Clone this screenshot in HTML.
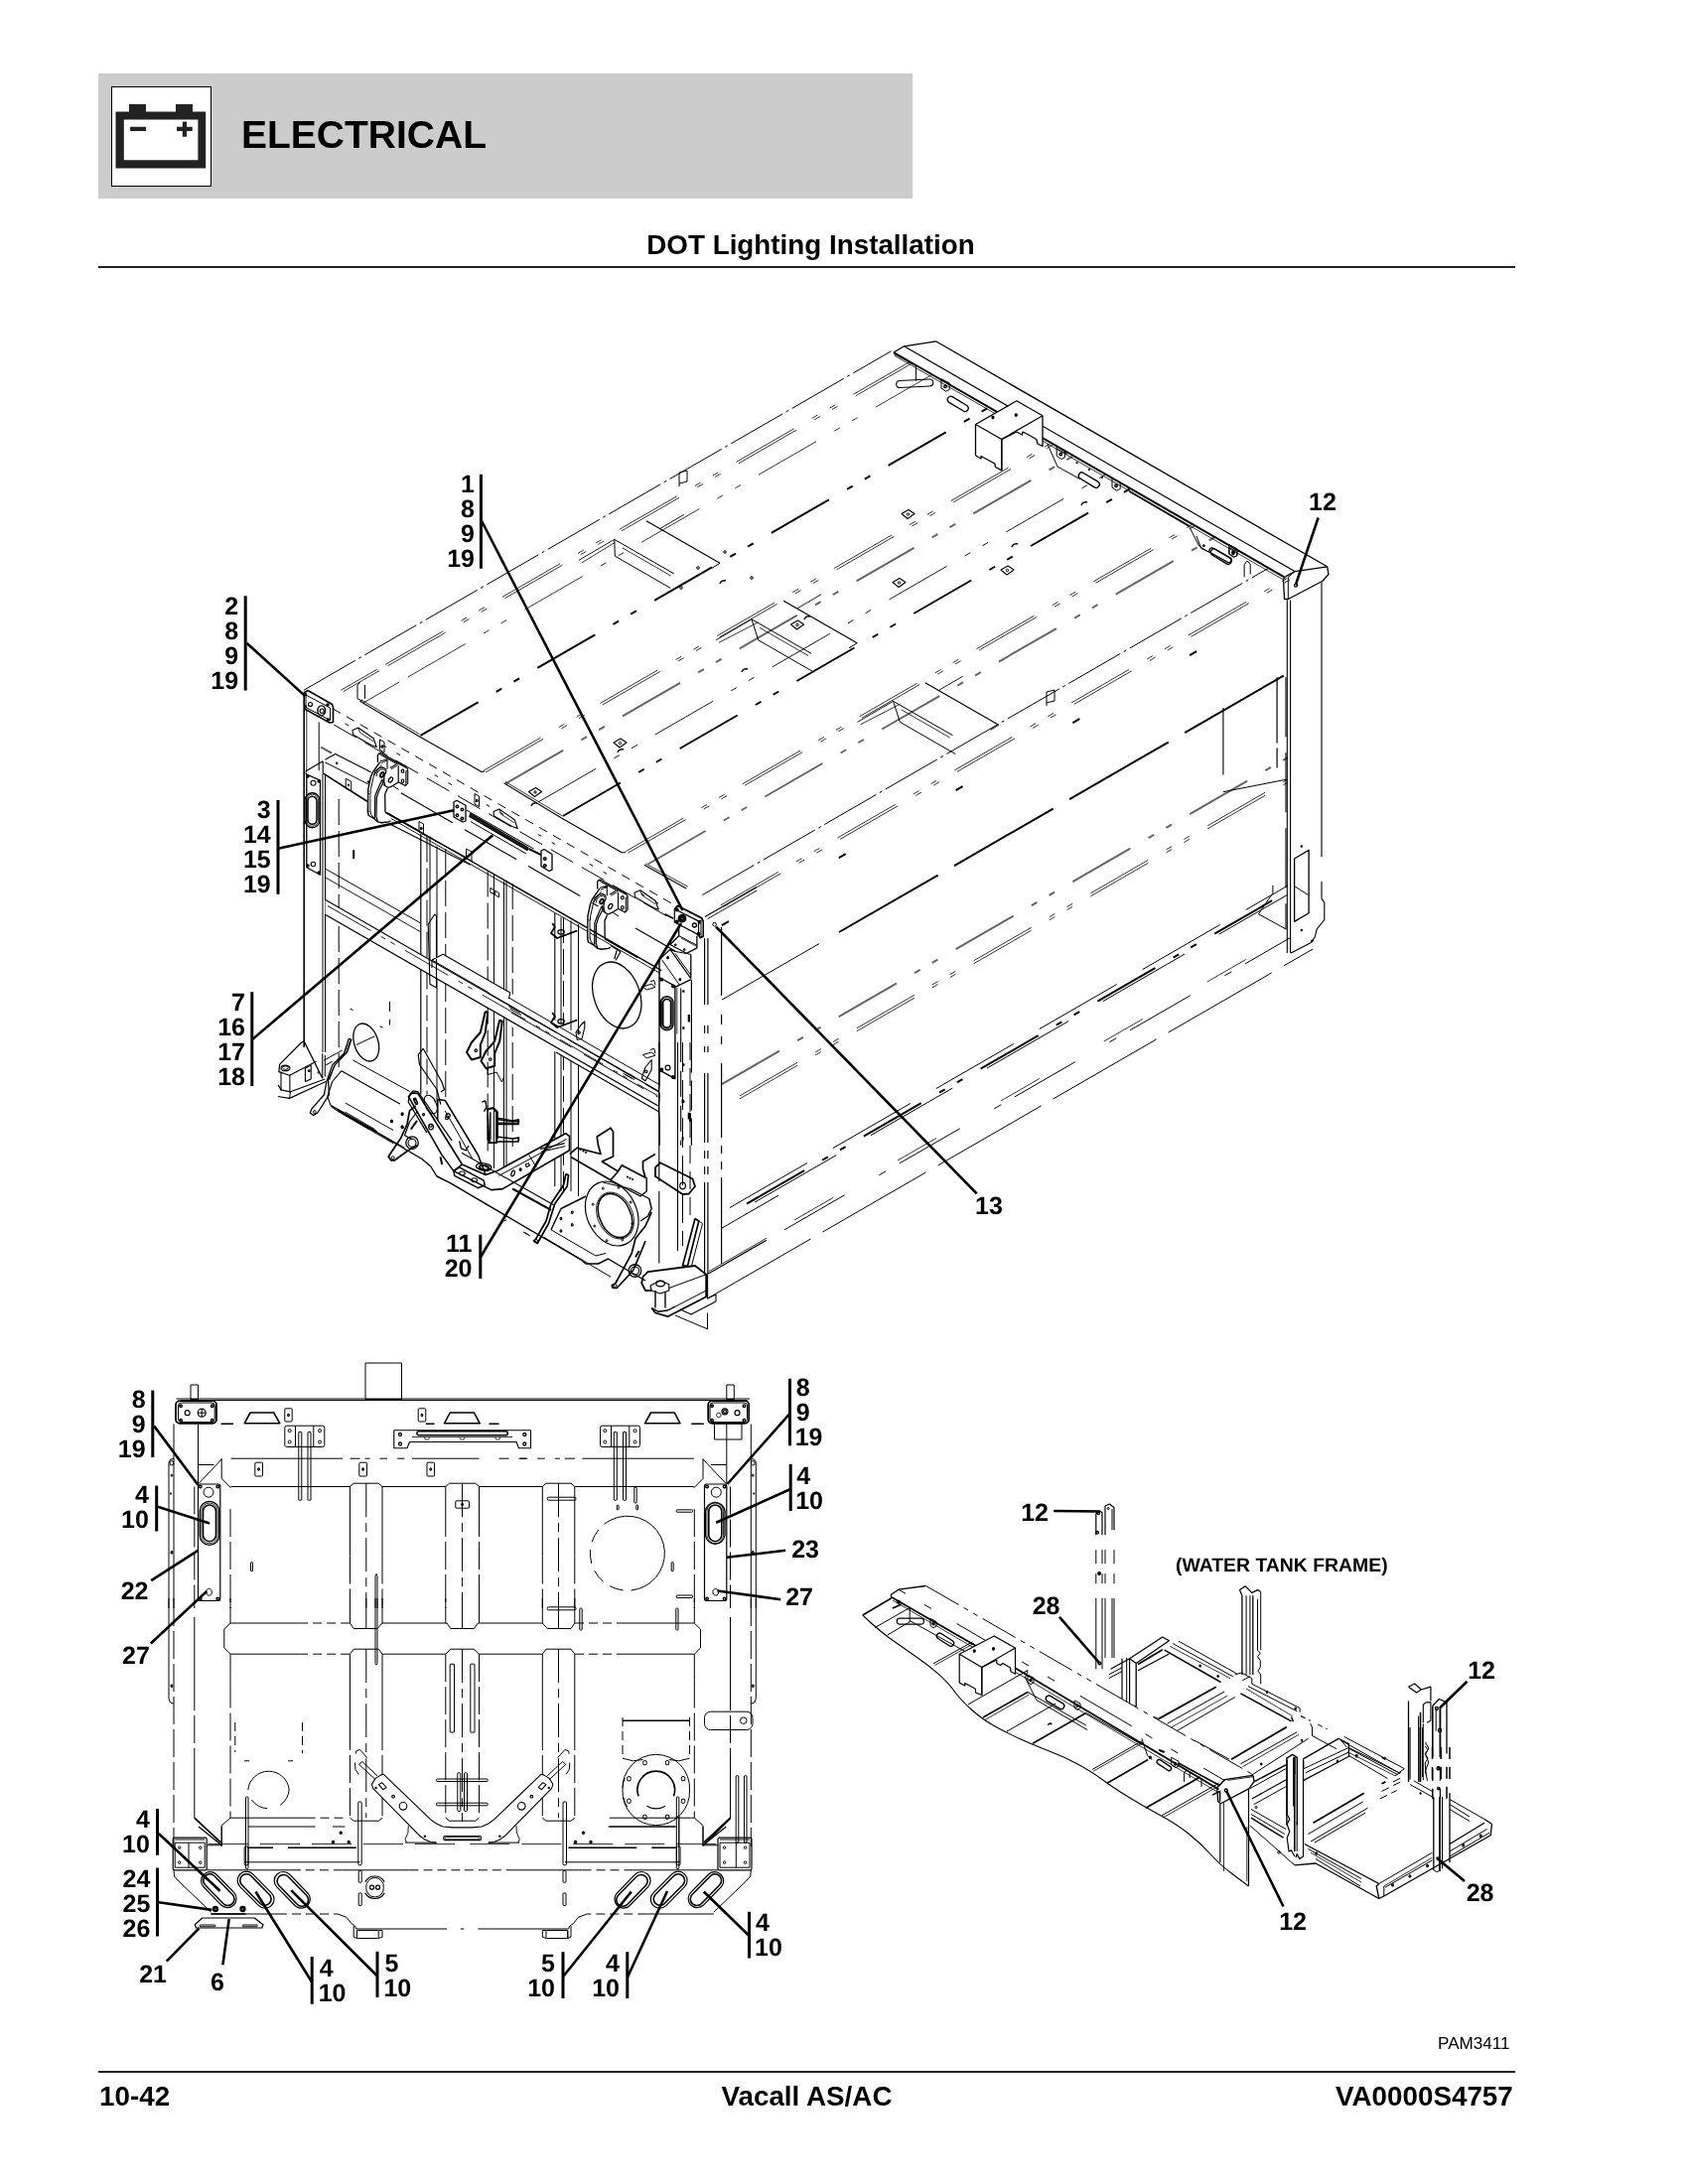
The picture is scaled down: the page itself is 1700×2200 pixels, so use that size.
<!DOCTYPE html>
<html><head><meta charset="utf-8"><title>DOT Lighting Installation</title>
<style>
html,body{margin:0;padding:0;background:#fff}
body{width:1700px;height:2200px;position:relative;overflow:hidden;font-family:"Liberation Sans",sans-serif;color:#000}
.banner{position:absolute;left:99px;top:74px;width:820px;height:126px;background:#ccc}
.icon{position:absolute;left:111.5px;top:86.5px;width:99.5px;height:99px;background:#fff;border:1px solid #000;box-sizing:content-box}
.h1{position:absolute;left:243px;top:114px;font-size:39px;font-weight:700;line-height:44px;white-space:nowrap}
.title{position:absolute;left:103px;width:1427px;top:230px;text-align:center;font-size:27.8px;font-weight:700;line-height:34px;white-space:nowrap}
.rule{position:absolute;left:99px;width:1427px;height:2px;background:#222}
.foot{position:absolute;top:2095px;font-size:27.8px;font-weight:700;line-height:34px;white-space:nowrap}
.pam{position:absolute;right:179.5px;top:2049px;font-size:17.1px;line-height:20px}
svg{position:absolute;left:0;top:0}
svg text{font-family:"Liberation Sans",sans-serif;text-rendering:geometricPrecision}
.h1,.title,.foot,.pam{will-change:transform}
svg{will-change:transform}
</style></head><body>
<div class="banner"></div><div class="icon"></div>
<div class="h1">ELECTRICAL</div>
<div class="title">DOT Lighting Installation</div>
<div class="rule" style="top:268px"></div>
<div class="rule" style="top:2086px"></div>
<div class="foot" style="left:100px">10-42</div>
<div class="foot" style="left:99px;width:1427px;text-align:center">Vacall AS/AC</div>
<div class="foot" style="right:176px">VA0000S4757</div>
<div class="pam">PAM3411</div>
<svg width="1700" height="2200" viewBox="0 0 1700 2200" fill="none" stroke="#000" stroke-width="1" stroke-linecap="butt" stroke-linejoin="round">
<g id="icon" stroke="none" fill="#222"><path d="M116.5 112.4H130V105.1H147V112.4H177V105.1H194V112.4H207.2V169.5H116.5ZM124.8 120.5V161.2H199.4V120.5Z" fill-rule="evenodd"/><path d="M131.1 127.8H147V132H131.1ZM178 127.8H183.8V122.6H188V127.8H193.7V132H188V137.7H183.8V132H178Z"/></g>
<g id="top">
<path stroke-width="1" d="M325 780L325 1060M327.5 780L327.5 1060M433 842.5L433 980M440 852.5L440 1110M497.5 880L497.5 1177.5M507.5 887.5L507.5 1180M510 887.5L510 1180M565 923.8L565 1200M575 927.5L575 1200M582.5 931.2L582.5 1205"/>
<path stroke-width="1" stroke-dasharray="26 6" d="M341.2 805L341.2 1075M430 842.5L430 1102.5M448.8 855L448.8 1115M491.2 877.5L491.2 1165M516.2 890L516.2 1155M567.5 923.8L567.5 1200"/>
<path stroke-width="1.2" d="M423.8 840L423.8 1102.5"/>
<path stroke-width="1.1" d="M558.8 920L558.8 1195"/>
<path stroke-width="2" d="M356.2 856.2L356.2 865"/>
<path stroke-width="0" stroke="#fff" fill="#fff" d="M327.5 906.2L435 968L435 967L446.2 961.2L513.8 1000L663.8 1092.5L663.8 1120L512.5 1032.5L512.5 1027.5L327.5 921.2Z"/>
<path stroke-width="1.1" d="M327.5 906.2L662.5 1098.8"/>
<path stroke-width="1.3" d="M327.5 921.2L662.5 1113.8"/>
<path stroke-width="0.9" stroke-dasharray="50 12 5 6 5 12" d="M330 912.5L662.5 1103.8"/>
<path stroke-width="0" stroke="#fff" fill="#fff" d="M381.6 759.2L383.4 758.5L409 772.5L410.6 774.8L410.6 788.9L408.1 791.5L401.2 787.8L391.6 793.5L390.3 794L387.7 799.9L388 818.2L393.5 826.9L391.6 827.9L384.3 828.8L380.6 827.9L377 824.7L371.3 821.5L370.3 817.3L370.8 794.9L373.3 783L375.1 778.4L380.4 770.6L380.4 760.6ZM602.8 886.7L604.6 886L630.3 900L631.9 902.3L631.9 916.4L629.4 919L622.5 915.3L612.9 921L611.5 921.5L609 927.4L609.2 945.7L614.7 954.4L612.9 955.4L605.5 956.3L601.9 955.4L598.2 952.2L592.5 949L591.6 944.8L592 922.4L594.6 910.5L596.4 905.9L601.7 898.1L601.7 888.1ZM664 966.9L674.9 955.9L679.9 958.1L683.7 930.7L679.3 929L679.3 915.3L683.2 912L707.9 925.2L709.6 944.9L709.6 1153.7L664 1153.7ZM411.4 1104.7L415.2 1100.9L420.9 1101.5L440.8 1128.4L440.8 1107.6L448.3 1108.5L481.5 1163.5L500.5 1179.6L569.7 1141.7L573.5 1144.5L573.5 1158.8L506.2 1197.6L494.8 1198.6L481.5 1196.7L457.8 1184.4L444.5 1162.6Z"/>
<path stroke-width="1.3" fill="#fff" d="M351.3 1046.4L353.8 1047.2L349.7 1059.7L337.2 1072.9L330.6 1087.9L331.4 1102.8L319.8 1121L315.7 1123.5L312.3 1121L314 1116.9L326.4 1102.8L328.9 1089.5L334.7 1072.9L346.4 1061.3Z"/>
<path stroke-width="1" stroke-dasharray="60 4 3 4" d="M305.8 695.3L897.6 353.7M707.4 901.5L1278 572"/>
<path stroke-width="0.8" stroke-dasharray="67 21 6.5 14 6.5 21" d="M486.6 776.5L1058.8 446.2M489.1 777.9L1061.2 447.6M630.1 857.7L1201.3 528M632.5 859.1L1203.7 529.4M388.2 669.3L916.4 364.4M390.6 670.7L918.8 365.8M410.7 682.1L938.8 377.3M725.8 911.9L1296.3 582.5M728.4 913.3L1298.9 584M745 1103.8L1297 785.1M745 1106.8L1297 788.1"/>
<path stroke-width="2" stroke-dasharray="67 21 6.5 14 6.5 21" stroke="#666" d="M509.2 789.3L1081.2 459.1M652.6 870.5L1223.7 540.8M727 1092.1L1297 763.1"/>
<path stroke-width="0.8" d="M343.2 695.3L379.7 674.3M345.6 696.7L382.1 675.6M365.7 708.1L402.2 687M714 1280.6L772 1247.2M626.8 551.9L675.8 580.1M585.8 566.9L619.3 546.4M765 632.3L814 660.5M724 647.3L763.7 626.8M907.6 714.8L956.6 743M866.6 729.8L906.3 709.3M900.5 358L1293.5 584.5M308.8 715L308.8 777.5M364 705L422.5 739.5M509 787.5L566.5 822M650.2 870L692.8 893.2M360.8 733L362.5 738M362.5 738L376.2 747M502.8 815L504.5 820M504.5 820L518.2 829M644.8 896.8L646.5 901.8M646.5 901.8L660.2 910.8M308.5 806.2L308.5 826.2A6 6 0 0 0 320.5 826.2L320.5 806.2A6 6 0 0 0 308.5 806.2ZM352.5 1048.1L348.3 1059.7L336.4 1073.8L331.8 1087.9M685.9 944.9L701.3 953.2"/>
<path stroke-width="0.9" stroke-dasharray="67 21 6.5 14 6.5 21" d="M542.1 807.9L1113.9 477.8"/>
<path stroke-width="2" stroke-dasharray="67 21 6.5 14 6.5 21" d="M423.5 740.8L996.1 410.2M566.9 822L1138.5 492M752 1212.7L1297 898.1"/>
<path stroke-width="1.1" d="M710 923.6L762 893.5M711.5 1283L712.6 1285L712.6 1308L721 1304L721 1311L696 1324L685 1319M908 517.5L915 513.5L921 517.5L914 522.5ZM899 586.5L906 582.5L912 586.5L905 591.5ZM1008 574L1015 570L1021 574L1014 579ZM796.5 629L803.5 625L809.5 629L802.5 634ZM618 748L625 744L631 748L624 753ZM532.5 797.5L539.5 793.5L545.5 797.5L538.5 802.5ZM906.4 390.5L936.4 389A3.5 3.5 0 0 0 936.1 382L906.1 383.5A3.5 3.5 0 0 0 906.4 390.5ZM1296.3 604.4L1296.3 960M1299.6 604.4L1299.6 960M1331 586.2L1331 713.1M1331 905.4L1333.8 909.2L1333.8 926.5L1326.1 936.1L1324.2 943.8L1320.4 949.6L1300.2 960M1231.9 713.1L1231.9 780.4M362.5 706.2L421.2 741.2M421.2 741.2L485 777.5L488 777M507.5 788.8L565 823.8M565 823.8L626.2 858.8L630 858.8M648.8 871.2L691.2 895M640 935L680 958M308.1 776.7L325.2 766.8M327.4 765.2L337.3 759.7M337.3 759.3L373.5 777.8M325.2 766.8L325.2 778.9M355 735.5L360.8 733L376.2 743.8L379.2 752.5L373.8 750.5L355.5 740ZM497 817.5L502.8 815L518.2 825.8L521.2 834.5L515.8 832.5L497.5 822ZM639 899.2L644.8 896.8L660.2 907.5L663.2 916.2L657.8 914.2L639.5 903.8ZM390 764.7L390 774.8M382.5 767L390.3 764.7M393 773.4L398.9 770M611.3 892.2L611.3 902.3M603.7 894.5L611.5 892.2M614.2 900.9L620.2 897.5M313 788.8a2.5 2.5 0 1 0 5 0a2.5 2.5 0 1 0 -5 0ZM313.2 870.5a2.2 2.2 0 1 0 4.5 0a2.2 2.2 0 1 0 -4.5 0ZM435 967L446.2 961.2L513.8 1000L512.5 1006.2M431.2 931.2L437.5 921.2L439.5 922.5L439.5 995L433 991.2L431.2 931.2M588.8 1028.8L585 1032.5L580 1040L581.2 1047.5L586.2 1046.2L588.8 1035ZM324.8 1061.3L324.8 1086.2M283 1079.6L283 1098.7M291.9 1082.9L291.9 1100.3M307.4 1076.3L313.2 1072.9L313.2 1087L307.4 1089.5ZM310.4 1078.7a0.8 0.8 0 1 0 1.7 0a0.8 0.8 0 1 0 -1.7 0ZM343.9 1078.7L334.7 1089.5L329.8 1104.5L333.1 1113.6L336.4 1116.9M428.8 1114.8A5.5 8.8 -25 1 0 438.7 1110.2A5.5 8.8 -25 1 0 428.8 1114.8ZM448.5 1126.2a1.5 1.5 0 1 0 3 0a1.5 1.5 0 1 0 -3 0ZM432.2 1133.8a1.5 1.5 0 1 0 3 0a1.5 1.5 0 1 0 -3 0ZM685.7 995.5L685.7 1043.8M656.2 1067.5L650 1075L646.2 1086.2L650 1088.8L656.2 1077.5ZM649.5 1079.5a1.2 1.2 0 1 0 2.5 0a1.2 1.2 0 1 0 -2.5 0ZM465 1161.2L557.5 1213.8M411 1151.2a4 4 0 1 0 8 0a4 4 0 1 0 -8 0ZM529.3 1173L532.3 1171.7L533.3 1174.3L530.2 1175.6ZM462.6 1181.9a2.8 1.9 0 1 0 5.7 0a2.8 1.9 0 1 0 -5.7 0ZM474.9 1188.7a2.8 1.9 0 1 0 5.7 0a2.8 1.9 0 1 0 -5.7 0ZM635.5 1280a4 4 0 1 0 8 0a4 4 0 1 0 -8 0ZM655 1295L665 1290L673.8 1293.8L673.8 1300L665 1303L656.2 1300ZM682.5 1050L682.5 1260"/>
<path stroke-width="0.9" d="M712.5 925.7L762 897.1M664.8 532.4L688.8 518.4M582.8 564.4L618.8 543.4M803 612.8L827 598.8M721 644.8L757 623.8M945.6 695.3L969.6 681.3M863.6 727.3L899.6 706.3M393.8 824.5L665 980.5M425 840L470 863.8M384.3 760.8L401.2 770.6M383.4 768.8L390 766.1M393.9 774.8L400.3 771.1M605.5 888.3L622.5 898.1M604.6 896.3L611.3 893.6M615.2 902.3L621.6 898.6M327.5 883.8L423.8 938.8M666.4 1009.2L666.4 1032.3A5.3 5.3 0 0 0 676.9 1032.3L676.9 1009.2A5.3 5.3 0 0 0 666.4 1009.2ZM347.5 1120L377.5 1137.5M603.6 1231.9A17.5 24.5 -25 1 0 635.4 1217.1A17.5 24.5 -25 1 0 603.6 1231.9Z"/>
<path stroke-width="2" stroke-dasharray="8 128" d="M727 932.1L1297 603.1"/>
<path stroke-width="1" d="M727 1007.1L825 950.6M727 1237.1L784 1204.2M717.8 931.2a1.8 1.8 0 1 0 3.6 0a1.8 1.8 0 1 0 -3.6 0ZM618.8 543.4L619.3 560.1M618.8 543.4L678.8 577.9M619.3 560.1L675.3 592.4M725 567.3L716.8 572.4M757 623.8L763.7 644.8M757 623.8L817 658.3M763.7 644.8L819.7 677.1M863.2 647.7L855 652.8M899.6 706.3L906.3 727.3M899.6 706.3L959.6 740.8M906.3 727.3L962.3 759.6M1005.8 730.2L997.6 735.3M913.3 518a1.2 1.2 0 1 0 2.4 0a1.2 1.2 0 1 0 -2.4 0ZM904.3 587a1.2 1.2 0 1 0 2.4 0a1.2 1.2 0 1 0 -2.4 0ZM1013.3 574.5a1.2 1.2 0 1 0 2.4 0a1.2 1.2 0 1 0 -2.4 0ZM801.8 629.5a1.2 1.2 0 1 0 2.4 0a1.2 1.2 0 1 0 -2.4 0ZM623.3 748.5a1.2 1.2 0 1 0 2.4 0a1.2 1.2 0 1 0 -2.4 0ZM537.8 798a1.2 1.2 0 1 0 2.4 0a1.2 1.2 0 1 0 -2.4 0ZM684 490L684 476L692 474L692 485L684 487M1054 711L1054 697L1062 695L1062 706L1054 708M701.7 572a1.3 1.3 0 1 0 2.6 0a1.3 1.3 0 1 0 -2.6 0ZM728.7 556a1.3 1.3 0 1 0 2.6 0a1.3 1.3 0 1 0 -2.6 0ZM684.7 592a1.3 1.3 0 1 0 2.6 0a1.3 1.3 0 1 0 -2.6 0ZM755.7 582a1.3 1.3 0 1 0 2.6 0a1.3 1.3 0 1 0 -2.6 0ZM1297.3 581.3L1297.3 603.5M1297.3 581.3L1304 575.6M948 381.8L956.2 386L956.2 392.5L952.5 394.2L948 391ZM1064.2 450L1072.5 454.2L1072.5 460.8L1068.8 462.5L1064.2 459.2ZM1120 481.8L1128.2 486L1128.2 492.5L1124.5 494.2L1120 491ZM1238 548.8L1246.2 553L1246.2 559.5L1242.5 561.2L1238 558ZM900 356.2L922.5 368.8M922.5 368.8L922.5 383.8M1055 447.5L1065 470L1087.5 482.5M1197.5 530L1207.5 550L1217.5 556.2M1065 452.5L1075 457.5M1304 892.9L1317.5 901.5M1231.9 797.7L1295.4 785.2M1267.5 920.8L1281.9 899.6L1281.9 891.9M1267.5 920.8L1295.4 936.1M1253.1 581.3L1253.1 568.8L1256 565L1259.2 567.9L1259.2 578.5M1237.7 551.5L1245.4 555.4L1245.4 560.2L1242.5 561.2L1237.7 558.3ZM1205 540L1209.8 552.5L1222.3 558.3M308 700L332.5 713L332.5 725.5L308 712.5ZM321.2 727.5L321.2 776.2M362.5 687.5L360 690L360 703.8L365 706.2M367.5 690L367.5 703.8M327.4 767.9L370.8 789.9M308.1 776.7L308.1 780.2M348.2 784.4L353.7 787.1L353.7 797L348.2 794.3ZM382.5 745L387 747.5L387 758L382.5 755.5ZM478 799.5L482.5 802L482.5 812.5L478 810ZM422 827.5L426.5 830L426.5 840.5L422 838ZM469.5 855L475 858L475 867.5L469.5 864.5ZM493.8 894.5L502.5 899.5L502.5 903.8L493.8 898.8ZM381.6 759.2L409 773.4M409 776.6L409 790.8M384.3 770.6L376.5 781.2L373.3 795.4L373.1 799.5M373.1 817.3L373.8 820.5L377 824.7M378.8 782.1L380 778L382.9 775.2L386.1 774.8L388 776.6M383.9 780A1 1.8 30 1 0 385.6 781A1 1.8 30 1 0 383.9 780ZM385.2 784.8L385.2 788.9L387 791.7M395.7 791.7L401.7 795.4M602.8 886.7L630.3 900.9M630.3 904.1L630.3 918.3M605.5 898.1L597.8 908.7L594.6 922.9L594.3 927M594.3 944.8L595 948L598.2 952.2M600.1 909.6L601.2 905.5L604.2 902.7L607.4 902.3L609.2 904.1M605.1 907.5A1 1.8 30 1 0 606.9 908.5A1 1.8 30 1 0 605.1 907.5ZM606.5 912.3L606.5 916.4L608.3 919.2M617 919.2L622.9 922.9M470 816.2L537.5 855M473.8 827.5L530 860M327.5 875L423.8 930M435 967L492.5 1000M435 967L435 975M358.8 1052.5L377.5 1043.8M352.5 1016.2L355.5 1017.5M382.5 1033.8L385.5 1035M488.8 1076.2L491.2 1077.5L491.2 1082.5L500 1080L505.5 1090L507.5 1085M561.2 945L581.2 937.5M561.2 1035L581.2 1027.5M327.3 1063L327.3 1084.6M284.6 1075.6a2.8 1.7 0 1 0 5.6 0a2.8 1.7 0 1 0 -5.6 0ZM292.4 1099.8L291.6 1106.4M320 1080.4a0.7 0.7 0 1 0 1.3 0a0.7 0.7 0 1 0 -1.3 0ZM326.4 1068L344.7 1058M328.1 1072.9L334.7 1069.3M315.7 1120.2a1.2 1.2 0 1 0 2.3 0a1.2 1.2 0 1 0 -2.3 0ZM348 1111.1L396.1 1138.5M336.4 1116.9L396.1 1151.7M355.5 1068L412.7 1099.5M493.8 1120L493.8 1147.5M486.2 1110L488.8 1108.8L490 1115L487.5 1118.8M683.7 942.7L701.9 952.1M666.7 966.9L684.3 992.2M679.9 960.3L695.8 982.3M679.9 958.4L695.8 961.4M647.5 993.8L656.2 991.2L660 994.5L651.2 997ZM655 988.8L658.8 987.5L660 992.5M647.5 1062.5L656.2 1060L660 1063.2L651.2 1065.8ZM655 1057.5L658.8 1056.2L660 1061.2M630 1082.5L636.2 1086.2M632.5 1081.2L638.8 1085M512.5 1005L663.8 1092.5M512.5 1013.8L523.8 1020M513.8 1016.2L525 1022.5M528.8 1022.5L540 1028.8M627.5 1081.2L638.8 1087.5M340 1118L407.5 1156.2M507.5 1230L510 1228.8M527.5 1241.2L533.8 1245M547.5 1246.2L615 1286.2M394.2 1166.2a1.5 1.5 0 1 0 3 0a1.5 1.5 0 1 0 -3 0ZM448.3 1119L475.8 1167.3M502.4 1184.4L570.6 1147.4M545 1160.3L569.3 1154.6M532.7 1163.5L540.3 1175.8M493.8 1121.2L493.8 1150M485 1110L488.8 1108.8L490 1116.2L487.5 1120M660 1185L660 1176.2M635.8 1232.8a1 1 0 1 0 2 0a1 1 0 1 0 -2 0ZM625.7 1248.8a1 1 0 1 0 2 0a1 1 0 1 0 -2 0ZM610 1249.7a1 1 0 1 0 2 0a1 1 0 1 0 -2 0ZM597.8 1235a1 1 0 1 0 2 0a1 1 0 1 0 -2 0ZM596.2 1213.2a1 1 0 1 0 2 0a1 1 0 1 0 -2 0ZM606.3 1197.2a1 1 0 1 0 2 0a1 1 0 1 0 -2 0ZM622 1196.3a1 1 0 1 0 2 0a1 1 0 1 0 -2 0ZM634.2 1211a1 1 0 1 0 2 0a1 1 0 1 0 -2 0ZM607.5 1191.2L635 1197.5M555 1238.8L600 1265L610 1262.5M538.5 1250a1.5 1.5 0 1 0 3 0a1.5 1.5 0 1 0 -3 0ZM618 1295a1.5 1.5 0 1 0 3 0a1.5 1.5 0 1 0 -3 0ZM673.8 1297.5L711.2 1283.8M680 1316.2L711.2 1300M703.8 1230L707.5 1232.5M707.5 1232.5L696.2 1276.2M680 1325L712.5 1338.8L712.5 1322.5"/>
<path stroke-width="2" stroke-dasharray="115 19" d="M845 939L1296 678.7"/>
<path stroke-width="1" stroke-dasharray="90 30" d="M735 1216.5L1297 892.1"/>
<path stroke-width="1" stroke-dasharray="95 40" d="M760 1211.1L1297 901.1"/>
<path stroke-width="0.8" stroke-dasharray="45 75" d="M800 1229L1297 942.1"/>
<path stroke-width="1.2" d="M712.5 1283.5L772 1249.2M709.6 945L709.6 1012M709.6 1033L709.6 1041M709.6 1054L709.6 1060M712.9 945L712.9 1012M712.9 1033L712.9 1041M712.9 1054L712.9 1060M726.6 934L726.6 1003M726.6 1022L726.6 1032M726.6 1044L726.6 1052M651 524.8L725 567.3M789.2 605.2L863.2 647.7M931.8 687.7L1005.8 730.2M910.5 348.8L1304 575.6M1303.4 589.6a1.6 1.6 0 1 0 3.2 0a1.6 1.6 0 1 0 -3.2 0ZM1084 466.2a0.5 0.5 0 1 0 1 0a0.5 0.5 0 1 0 -1 0ZM1096.5 473a0.5 0.5 0 1 0 1 0a0.5 0.5 0 1 0 -1 0ZM1109.5 480.8a0.5 0.5 0 1 0 1 0a0.5 0.5 0 1 0 -1 0ZM1212 550a0.5 0.5 0 1 0 1 0a0.5 0.5 0 1 0 -1 0ZM1286.1 682.3L1286.1 748.6M310.5 709.5a2 2 0 1 0 4 0a2 2 0 1 0 -4 0ZM322.2 716.2a2 2.2 0 1 0 4 0a2 2.2 0 1 0 -4 0ZM392.5 830L473.8 871.2M497.2 899.5a0.8 0.8 0 1 0 1.5 0a0.8 0.8 0 1 0 -1.5 0ZM401.2 771.6L401.2 787.8M404.2 776.8a1.3 1.7 0 1 0 2.6 0a1.3 1.7 0 1 0 -2.6 0ZM404.2 786.7a1.3 1.7 0 1 0 2.6 0a1.3 1.7 0 1 0 -2.6 0ZM384.8 785.3L379.7 796.7L377.7 802.2L377.4 824.2M387 786.2L381.6 796.7L379.3 803.6L379 822.8L380.6 827.9M376.5 781.2L377.9 777L381.6 773.8L385.2 772.9L388 774.3L389.1 777M622.5 899.1L622.5 915.3M625.5 904.3a1.3 1.7 0 1 0 2.6 0a1.3 1.7 0 1 0 -2.6 0ZM625.5 914.2a1.3 1.7 0 1 0 2.6 0a1.3 1.7 0 1 0 -2.6 0ZM606 912.8L601 924.2L598.9 929.7L598.7 951.7M608.3 913.7L602.8 924.2L600.5 931.1L600.3 950.3L601.9 955.4M597.8 908.7L599.1 904.5L602.8 901.3L606.5 900.4L609.2 901.8L610.4 904.5M478 1058.2a1.2 1.2 0 1 0 2.5 0a1.2 1.2 0 1 0 -2.5 0ZM492.5 1067a1.2 1.2 0 1 0 2.5 0a1.2 1.2 0 1 0 -2.5 0ZM561.8 938.8a3.2 2.2 0 1 0 6.5 0a3.2 2.2 0 1 0 -6.5 0ZM561.8 1028.8a3.2 2.2 0 1 0 6.5 0a3.2 2.2 0 1 0 -6.5 0ZM581.8 1040a1.2 1.2 0 1 0 2.5 0a1.2 1.2 0 1 0 -2.5 0ZM306.2 1048.9L303.2 1050.5L281.7 1072.1L280.8 1079.6L291.6 1083.2L318.5 1069.3M283 1075.9a4.5 2.8 0 1 0 9 0a4.5 2.8 0 1 0 -9 0ZM280 1092.8L283.3 1097.8L292.4 1099.8L327.3 1087M280 1104.5L291.6 1106.4L328.1 1089.5M343.9 1078.7L402.8 1111.9M426.2 1056.2L421.2 1062.5L422.5 1072.5L440 1097.5L443.8 1112.5M426.2 1056.2L445 1090L447.5 1097.5L443.8 1100M416.6 1108L418.6 1111.7A1 1 0 0 0 420.4 1110.8L418.4 1107A1 1 0 0 0 416.6 1108ZM420 1120L412.5 1130L407.5 1143.8L415 1147.5M501.2 1126.2L516.2 1128.8L522.5 1127.5L521.2 1131.2L501.2 1131.2M679.3 915.8L703.5 927.9L703.5 941.6L679.3 929ZM664 966.9L674.9 956.3L679.9 958.4M674.9 956.3L695.8 985.6M664 1093.3L663.4 1098.8L664.2 1104.3L663.4 1115.3L664.2 1130L664.2 1153.7M670.1 1075.5a2.4 2.4 0 1 0 4.8 0a2.4 2.4 0 1 0 -4.8 0ZM696.4 986.7L696.4 1050.4M615 952.5L625 958.8L620 967.5M621.2 957.5L618.8 966.2M560 1060L663.8 1120M431.8 1135.1a2.3 2.3 0 1 0 4.5 0a2.3 2.3 0 1 0 -4.5 0ZM449.1 1123.7a2.1 2.1 0 1 0 4.2 0a2.1 2.1 0 1 0 -4.2 0ZM584 1158a0.5 0.5 0 1 0 1 0a0.5 0.5 0 1 0 -1 0ZM587 1159.5a0.5 0.5 0 1 0 1 0a0.5 0.5 0 1 0 -1 0ZM589.5 1160.8a0.5 0.5 0 1 0 1 0a0.5 0.5 0 1 0 -1 0ZM631.5 1185.5a0.5 0.5 0 1 0 1 0a0.5 0.5 0 1 0 -1 0ZM634 1186.8a0.5 0.5 0 1 0 1 0a0.5 0.5 0 1 0 -1 0ZM636.5 1188a0.5 0.5 0 1 0 1 0a0.5 0.5 0 1 0 -1 0ZM684.8 1194.5a2.8 2.8 0 1 0 5.5 0a2.8 2.8 0 1 0 -5.5 0ZM593.6 1233.1A25 33.8 -25 1 0 638.9 1211.9A25 33.8 -25 1 0 593.6 1233.1ZM564.2 1227.5a0.8 0.8 0 1 0 1.5 0a0.8 0.8 0 1 0 -1.5 0ZM575.5 1221.2a0.8 0.8 0 1 0 1.5 0a0.8 0.8 0 1 0 -1.5 0ZM564.2 1240a0.8 0.8 0 1 0 1.5 0a0.8 0.8 0 1 0 -1.5 0ZM575.5 1233.8a0.8 0.8 0 1 0 1.5 0a0.8 0.8 0 1 0 -1.5 0ZM660.8 1293a4.2 2.8 0 1 0 8.5 0a4.2 2.8 0 1 0 -8.5 0Z"/>
<path stroke-width="1" stroke-dasharray="70 40 8 16" d="M790 1238.8L1300 944.3"/>
<path stroke-width="1" stroke-dasharray="120 14" d="M712.5 1308L1322 956.1"/>
<path stroke-width="1.2" stroke-dasharray="70 8 8 8 8 8 200" d="M709.6 1081L709.6 1283M712.9 1081L712.9 1283"/>
<path stroke-width="1.2" stroke-dasharray="75 8 8 8 8 8 200" d="M726.6 1071L726.6 1273"/>
<path stroke-width="1.4" d="M535 812a4 3 -30 0 1 6 -3M622 758a4 3 -30 0 1 6 -3M810 624a4 3 -30 0 1 6 -3M1019 551a4 3 -30 0 1 6 -3M1089 509a4 3 -30 0 1 6 -3M747 677a4 3 -30 0 1 6 -3M725 588a4 3 -30 0 1 6 -3M950.8 389.2a1.2 1.2 0 1 0 2.5 0a1.2 1.2 0 1 0 -2.5 0ZM1067 457.5a1.2 1.2 0 1 0 2.5 0a1.2 1.2 0 1 0 -2.5 0ZM1122.8 489.2a1.2 1.2 0 1 0 2.5 0a1.2 1.2 0 1 0 -2.5 0ZM1240.8 556.2a1.2 1.2 0 1 0 2.5 0a1.2 1.2 0 1 0 -2.5 0ZM955.8 405.3L970.3 414A3.2 3.2 0 0 0 973.7 408.5L959.2 399.7A3.2 3.2 0 0 0 955.8 405.3ZM1087.8 482L1102.3 490.8A3.2 3.2 0 0 0 1105.7 485.2L1091.2 476.5A3.2 3.2 0 0 0 1087.8 482ZM1220.8 559L1235.3 567.8A3.2 3.2 0 0 0 1238.7 562.2L1224.2 553.5A3.2 3.2 0 0 0 1220.8 559ZM320 715.8a3.8 4.2 0 1 0 7.5 0a3.8 4.2 0 1 0 -7.5 0ZM390 818.8L666.2 977.6M350.4 790.8a0.5 0.5 0 1 0 1.1 0a0.5 0.5 0 1 0 -1.1 0ZM338.7 768.8a0.5 0.5 0 1 0 1.1 0a0.5 0.5 0 1 0 -1.1 0ZM370.5 787.5a0.5 0.5 0 1 0 1.1 0a0.5 0.5 0 1 0 -1.1 0ZM382.5 767.9L375.1 778.4L373.3 783L370.8 794.9L370.3 817.3L371.3 821.5L377 824.7L380.6 827.9L384.3 828.8L391.6 827.9L393.5 826.9M603.7 895.4L596.4 905.9L594.6 910.5L592 922.4L591.6 944.8L592.5 949L598.2 952.2L601.9 955.4L605.5 956.3L612.9 955.4L614.7 954.4M307 806.2L307 826.2A7.5 7.5 0 0 0 322 826.2L322 806.2A7.5 7.5 0 0 0 307 806.2ZM393.8 1129.3a0.7 0.7 0 1 0 1.3 0a0.7 0.7 0 1 0 -1.3 0ZM404.6 1121.9a0.7 0.7 0 1 0 1.3 0a0.7 0.7 0 1 0 -1.3 0ZM404.6 1135.6a0.7 0.7 0 1 0 1.3 0a0.7 0.7 0 1 0 -1.3 0ZM671.9 964.7a0.7 0.7 0 1 0 1.3 0a0.7 0.7 0 1 0 -1.3 0ZM684.2 986.7a0.7 0.7 0 1 0 1.3 0a0.7 0.7 0 1 0 -1.3 0ZM664 966.9L664 1093.3M664 984.5L679.9 993.3L679.9 1086.7L664 1077.9ZM665.3 1009.2L665.3 1032.3A6.4 6.4 0 0 0 678 1032.3L678 1009.2A6.4 6.4 0 0 0 665.3 1009.2ZM333.8 1113.8L425 1167.5L433.8 1175L440 1185L452.5 1191.2L585 1268.8L590 1273L602.5 1273L612.5 1268L620 1272.5L650 1290M523.4 1178.1a0.8 0.8 0 1 0 1.5 0a0.8 0.8 0 1 0 -1.5 0ZM615 1188.8L645 1205L651.2 1200L651.2 1186.2M635 1197.5L653.8 1207.5L656.2 1217.5L652.5 1225L645 1230M555 1238.8L565 1217.5L590 1205M660 1300L660 1317.5M670 1301.2L670 1317.5M656.2 1317.5L662.5 1321.2L672.5 1320L680 1316.2"/>
<path stroke-width="1.3" d="M900 355L910.5 348.8L942.5 343.8M942.5 343.8L1336.7 570.8M1304 575.6L1336.7 570.8L1338 578.5L1332 585.2L1297.3 603.5L1293.5 603.5L1292.5 583.3L1295.4 580.4ZM1303.6 865L1318.1 856.3L1318.1 919.8L1303.6 928.4ZM1310.2 852.5a0.6 0.6 0 1 0 1.2 0a0.6 0.6 0 1 0 -1.2 0ZM1310.2 937.1a0.6 0.6 0 1 0 1.2 0a0.6 0.6 0 1 0 -1.2 0ZM1320.8 947.7a0.6 0.6 0 1 0 1.2 0a0.6 0.6 0 1 0 -1.2 0ZM1219.1 556.8L1236.4 566.4A2.7 2.7 0 0 0 1239 561.7L1221.7 552.1A2.7 2.7 0 0 0 1219.1 556.8ZM1241.1 557.7a0.8 0.8 0 1 0 1.5 0a0.8 0.8 0 1 0 -1.5 0ZM1211.7 549.6a0.6 0.6 0 1 0 1.2 0a0.6 0.6 0 1 0 -1.2 0ZM384 752a0.8 0.8 0 1 0 1.5 0a0.8 0.8 0 1 0 -1.5 0ZM479.5 806.5a0.8 0.8 0 1 0 1.5 0a0.8 0.8 0 1 0 -1.5 0ZM423.5 834.5a0.8 0.8 0 1 0 1.5 0a0.8 0.8 0 1 0 -1.5 0ZM380.4 767.9L380.4 760.6L381.6 759.2L383.4 758.5L409 772.5L410.6 774.8L410.6 788.9L408.1 791.5L401.2 787.8M390.3 794L387.7 799.9L388 818.2M389.1 777L387 781.6L386.6 787.1L388 791.7L391.2 793.5L394.4 792.2L401.2 788M391.9 784.6A1.7 2.7 30 1 0 395 786.4A1.7 2.7 30 1 0 391.9 784.6ZM601.7 895.4L601.7 888.1L602.8 886.7L604.6 886L630.3 900L631.9 902.3L631.9 916.4L629.4 919L622.5 915.3M611.5 921.5L609 927.4L609.2 945.7M610.4 904.5L608.3 909.1L607.8 914.6L609.2 919.2L612.4 921L615.6 919.7L622.5 915.5M613.2 912.1A1.7 2.7 30 1 0 616.2 913.9A1.7 2.7 30 1 0 613.2 912.1ZM457 808L460 806.2L469 811.2L469 827L466 828L457 823ZM545 857L548 855.5L556 860.5L556 876.2L553 877.5L545 872.5ZM308.8 780L322.5 786.2L322.5 881.2L308.8 873.8ZM357.3 1053.7A12 19.5 -18 1 0 380.2 1046.3A12 19.5 -18 1 0 357.3 1053.7ZM599.6 1010.4A23 34.5 -20 1 0 642.9 994.6A23 34.5 -20 1 0 599.6 1010.4ZM306.2 1048.9L324.8 1086.2M412.5 1102.5L416.2 1098.8L421.2 1100L455 1148.8M412.5 1102.5L411.2 1110L430 1141.2M491.2 1117.5L497.5 1116.2L501.2 1120L501.2 1147.5M491.2 1117.5L491.2 1148.8M697.4 932a2 2 0 1 0 4 0a2 2 0 1 0 -4 0ZM683.7 930.7L683.7 942.7L674.9 951.5L691.4 960.3L701.9 954.8L701.9 942.7M695.8 961.4L695.8 985.6M695.8 986.7L679.9 994.4M408.8 1151.2a6.2 6.2 0 1 0 12.5 0a6.2 6.2 0 1 0 -12.5 0ZM393.8 1129.5a0.8 0.8 0 1 0 1.5 0a0.8 0.8 0 1 0 -1.5 0ZM404.2 1122.5a0.8 0.8 0 1 0 1.5 0a0.8 0.8 0 1 0 -1.5 0ZM404.2 1135a0.8 0.8 0 1 0 1.5 0a0.8 0.8 0 1 0 -1.5 0ZM544.1 1157.3L568.7 1151.6M417.1 1107.5L418.6 1111.7A0.9 0.9 0 0 0 420.4 1111.1L418.9 1106.9A0.9 0.9 0 0 0 417.1 1107.5ZM425.8 1122.7a0.8 0.8 0 1 0 1.5 0a0.8 0.8 0 1 0 -1.5 0ZM515.2 1181.4A1.5 2.7 20 1 0 518 1182.4A1.5 2.7 20 1 0 515.2 1181.4ZM479.7 1174.4A7.6 3.4 8 1 0 494.7 1176.5A7.6 3.4 8 1 0 479.7 1174.4ZM462.6 1149.3L464.5 1156.9L469.2 1158.8L472 1154M633.2 1280a6.2 6.2 0 1 0 12.5 0a6.2 6.2 0 1 0 -12.5 0Z"/>
<path stroke-width="2" d="M900 355L1293.5 581.3M532.5 855L545 861.2M488.8 1018.8L491.2 1020L488.8 1040L483.8 1052.5L483.8 1065L475 1067.5L470 1060L475 1050L483.8 1040L488.8 1018.8M503.2 1027.5L505.8 1028.8L503.2 1048.8L498.2 1061.2L498.2 1073.8L489.5 1076.2L484.5 1068.8L489.5 1058.8L498.2 1048.8L503.2 1027.5M685.5 925.2a1.5 1.5 0 1 0 3.1 0a1.5 1.5 0 1 0 -3.1 0ZM680.8 916.6a1 1 0 1 0 2 0a1 1 0 1 0 -2 0ZM703.6 928.7a1 1 0 1 0 2 0a1 1 0 1 0 -2 0ZM680.8 928.5a1 1 0 1 0 2 0a1 1 0 1 0 -2 0ZM702.5 940.8a1 1 0 1 0 2 0a1 1 0 1 0 -2 0ZM665.2 986.7a1 1 0 1 0 2 0a1 1 0 1 0 -2 0ZM677 993.5a1 1 0 1 0 2 0a1 1 0 1 0 -2 0ZM665.2 1077.4a1 1 0 1 0 2 0a1 1 0 1 0 -2 0ZM677 1085.1a1 1 0 1 0 2 0a1 1 0 1 0 -2 0ZM516.2 1197.5L555 1218.8M413.8 1137.5L420 1128.8M340 1117.5L342.5 1120M482.7 1175.5A4.9 2.1 8 1 0 492.5 1176.9A4.9 2.1 8 1 0 482.7 1175.5ZM443.6 1165.4L445.1 1173M640 1266.2L643.8 1260M687.5 1107.5L687.5 1111.2M695 1121.2L695 1130M687.5 1145L687.5 1148.8"/>
<path stroke-width="1.6" d="M1137.5 495L1197.5 530M306.2 698L310 695.5L334.5 709.5L335.5 712.5L335.5 727.5L332 728L306.2 713.8ZM306.2 713.8L306.2 1055M325.2 778.9L370.2 807.5M388 818.2L421.4 837M383.3 779.6A1.7 2.7 30 1 0 386.3 781.3A1.7 2.7 30 1 0 383.3 779.6ZM609.2 945.7L642.6 964.5M604.5 907.1A1.7 2.7 30 1 0 607.5 908.8A1.7 2.7 30 1 0 604.5 907.1ZM306.2 990L306.2 1048.9M669.5 920.8L678.2 925.2M667.7 1009.8L667.7 1031.8A4 4 0 0 0 675.6 1031.8L675.6 1009.8A4 4 0 0 0 667.7 1009.8ZM411.4 1104.7L415.2 1100.9L420.9 1101.5L465.4 1173L456.9 1179.6L444.5 1162.6ZM456.9 1179.6L494.8 1198.6L506.2 1197.6L573.5 1158.8L573.5 1144.5L569.7 1141.7L500.5 1179.6L489.1 1183.4L465.4 1173"/>
<path stroke-width="1.1" stroke-dasharray="150 25" d="M1331 713.1L1331 905.4"/>
<path stroke-width="1.2" stroke-dasharray="20 14" d="M1286.1 753.5L1286.1 778.5"/>
<path stroke-width="1.1" stroke-dasharray="60 16" d="M1295 682.3L1295 936.1"/>
<path stroke-width="1.5" d="M306.5 699.5a1 1 0 1 0 2 0a1 1 0 1 0 -2 0ZM329 710a1 1 0 1 0 2 0a1 1 0 1 0 -2 0ZM306.5 712a1 1 0 1 0 2 0a1 1 0 1 0 -2 0ZM329.5 725a1 1 0 1 0 2 0a1 1 0 1 0 -2 0ZM459.2 812.5a1.2 1.2 0 1 0 2.5 0a1.2 1.2 0 1 0 -2.5 0ZM464.2 815.5a1.2 1.2 0 1 0 2.5 0a1.2 1.2 0 1 0 -2.5 0ZM459.2 821.2a1.2 1.2 0 1 0 2.5 0a1.2 1.2 0 1 0 -2.5 0ZM464.2 824.5a1.2 1.2 0 1 0 2.5 0a1.2 1.2 0 1 0 -2.5 0ZM547.5 865a1.2 1.2 0 1 0 2.5 0a1.2 1.2 0 1 0 -2.5 0ZM547.5 872a1.2 1.2 0 1 0 2.5 0a1.2 1.2 0 1 0 -2.5 0ZM310 806.8L310 825.8A4.5 4.5 0 0 0 319 825.8L319 806.8A4.5 4.5 0 0 0 310 806.8ZM309 782a1 1 0 1 0 2 0a1 1 0 1 0 -2 0ZM320.2 787a1 1 0 1 0 2 0a1 1 0 1 0 -2 0ZM309 872a1 1 0 1 0 2 0a1 1 0 1 0 -2 0ZM320.2 879a1 1 0 1 0 2 0a1 1 0 1 0 -2 0ZM679.7 951.8a0.5 0.5 0 1 0 1.1 0a0.5 0.5 0 1 0 -1.1 0ZM688.7 956.5a0.5 0.5 0 1 0 1.1 0a0.5 0.5 0 1 0 -1.1 0ZM687.8 998.6a0.5 0.5 0 1 0 1.1 0a0.5 0.5 0 1 0 -1.1 0ZM687.8 1035.6a0.5 0.5 0 1 0 1.1 0a0.5 0.5 0 1 0 -1.1 0ZM687.8 1072.6a0.5 0.5 0 1 0 1.1 0a0.5 0.5 0 1 0 -1.1 0ZM687.8 1109.6a0.5 0.5 0 1 0 1.1 0a0.5 0.5 0 1 0 -1.1 0ZM343.8 1121.2L372.5 1137.5M440.8 1128.4L440.8 1107.6L448.3 1108.5L481.5 1163.5L489.1 1183.4M456.9 1179.6L462.6 1175.8L487.2 1189.1L488.2 1193.8L481.5 1196.7L457.8 1184.4ZM605.5 1231.1A15.5 22 -25 1 0 633.5 1217.9A15.5 22 -25 1 0 605.5 1231.1Z"/>
<path stroke-width="1" stroke-dasharray="9 7" d="M335 713.8L680 912.1"/>
<path stroke-width="1" stroke-dasharray="26 10" d="M336.2 730L680 927.7"/>
<path stroke-width="1" stroke-dasharray="4 40 4 12" d="M347.5 728.8L680 919.9"/>
<path stroke-width="1.1" stroke-dasharray="60 14" d="M403.8 798.8L602.5 913"/>
<path stroke-width="2" stroke="#555" d="M323 752.5L334 758.6"/>
<path stroke-width="0.6" fill="#aaa" d="M409 776.6L410.6 776.6L410.6 788.9L409 790.8ZM370.6 799.5L373.1 799.5L373.1 817.3L370.6 817.3ZM630.3 904.1L631.9 904.1L631.9 916.4L630.3 918.3ZM591.8 927L594.3 927L594.3 944.8L591.8 944.8Z"/>
<path stroke-width="1.2" fill="#222" d="M473.8 819.5L532 853.8L531 856.5L472.8 822.5Z"/>
<path stroke-width="1" stroke-dasharray="10 8" d="M392.5 1008.8L392.5 1032.5"/>
<path stroke-width="1.8" d="M556.2 930L558.8 933.8L555 940L561.2 945L581.2 937.5M556.2 1020L558.8 1023.8L555 1030L561.2 1035L581.2 1027.5M679.3 915.8L682.6 912.5L706.8 924.9L708.1 927.9L708.1 943.3L705.2 944.6L703.5 941.6M490 1117.5L496.2 1116.2L500 1120L500 1151.2L492.5 1151.2L491.2 1122.5M660 1176.2L665 1171.2L697.5 1187.5L700 1195L693.8 1202.5L687.5 1203L660 1185ZM647.5 1286.2L652.5 1281.2L700 1275L711.2 1283.8L711.2 1306.2L672.5 1326.2L660 1322.5L656.2 1317.5M647.5 1286.2L646.2 1292.5L650 1300L656.2 1300"/>
<path stroke-width="2.2" d="M339.7 1117.7L379.5 1140.1M683.7 925.2a3.3 3.3 0 1 0 6.6 0a3.3 3.3 0 1 0 -6.6 0ZM693.8 1021.9L693.8 1029.6M693.8 1120.8L693.8 1127.4"/>
<path stroke-width="0.6" fill="#999" d="M705.7 926.8L708.1 927.9L708.1 943.3L705.7 942.5Z"/>
<path stroke-width="2" stroke="#777" d="M681.5 994.4L681.5 1041.6"/>
<path stroke-width="1.1" stroke-dasharray="26 9" d="M685.7 1043.8L685.7 1153.7"/>
<path stroke-width="1.2" stroke-dasharray="30 8" d="M696.4 1050.4L696.4 1153.7"/>
<path stroke-width="1.1" stroke-dasharray="80 12" d="M491.2 1000L663.8 1100"/>
<path stroke-width="1" stroke-dasharray="70 14" d="M515 1020L662.5 1105"/>
<path stroke-width="1.7" d="M418.8 1113.8L412.5 1118.8L410 1132.5L403.8 1146.2L391.2 1165L393.8 1168.8L397.5 1168.8L411.2 1158.8L420 1153.8M500 1127.5L516.2 1129.5L522.5 1128.8L522 1132.5L500 1132.5M500 1145L516.2 1147L522.5 1146.2L522 1150L500 1150M573.8 1162.5L581.2 1156.2L605 1162.5L602.5 1153.8L601.2 1145L615 1136.2L617.5 1140L617.5 1165L606.2 1170L622.5 1180L615 1188.8L575 1165.5M622.5 1180L626.2 1173.8L650 1186.2L647.5 1177.5L647.5 1170L660 1162.5M570 1182.5L572.5 1183.8L571.2 1195L558.8 1212.5L552.5 1232.5L541.2 1252.5L537.5 1250L540 1247.5L550 1230L555 1212.5L567.5 1193.8L570 1182.5M656.2 1221.2L650 1235L640 1247.5L636.2 1262.5L620 1292.5L616.2 1295L617.5 1297.5L621.2 1297.5L637.5 1280L645 1262.5L650 1250M700 1227.5L703.8 1230L692.5 1275L687.5 1275L700 1227.5"/>
<path stroke-width="1" stroke-dasharray="6 4" d="M527.5 1241.2L535 1245.5"/>
<path stroke-width="1.1" stroke-dasharray="140 10" d="M663.8 1050L663.8 1272.5"/>
<path stroke-width="1" stroke-dasharray="30 8" d="M687.5 1050L687.5 1255"/>
<path stroke-width="1" stroke-dasharray="18 8" d="M695 1050L695 1225"/>
<path stroke-width="1.3" fill="#fff" d="M982.5 427.5L1023.8 403.8L1050 418.8L1050 449.5L1045 447L1043.8 442.5L1035 437.5L1030 435L1029.5 438L1023.8 435L1008.8 442.5L1008.8 473.8L1002.5 470.5L1001.8 467L988 459.5L988 462L982.5 458.8Z"/>
<path stroke-width="1.3" d="M982.5 427.5L1008.8 442.5L1050 418.8M1008.8 442.5L1008.8 473.8"/>
<path stroke-width="1.5" d="M999.2 420.5a0.8 0.8 0 1 0 1.5 0a0.8 0.8 0 1 0 -1.5 0ZM1022.5 418a0.8 0.8 0 1 0 1.5 0a0.8 0.8 0 1 0 -1.5 0Z"/>

</g>
<g id="bl">
<path stroke-width="1.2" d="M177.5 1409L755 1409M182.5 1410.5L752.5 1410.5M424.2 1425.5a0.8 0.8 0 1 0 1.5 0a0.8 0.8 0 1 0 -1.5 0ZM464.8 1515.5a0.8 0.8 0 1 0 1.5 0a0.8 0.8 0 1 0 -1.5 0ZM364.8 1480a0.8 0.8 0 1 0 1.5 0a0.8 0.8 0 1 0 -1.5 0ZM433 1480a0.8 0.8 0 1 0 1.5 0a0.8 0.8 0 1 0 -1.5 0ZM289.8 1425.5a0.8 0.8 0 1 0 1.5 0a0.8 0.8 0 1 0 -1.5 0ZM259.8 1480a0.8 0.8 0 1 0 1.5 0a0.8 0.8 0 1 0 -1.5 0ZM171.5 1504.5a0.5 0.5 0 1 0 1 0a0.5 0.5 0 1 0 -1 0ZM758.8 1504.5a0.5 0.5 0 1 0 1 0a0.5 0.5 0 1 0 -1 0ZM172.2 1563.8a0.8 0.8 0 1 0 1.5 0a0.8 0.8 0 1 0 -1.5 0ZM757.5 1563.8a0.8 0.8 0 1 0 1.5 0a0.8 0.8 0 1 0 -1.5 0ZM201.5 1495H219.8A2 2 0 0 1 221.8 1497V1610.5A2 2 0 0 1 219.8 1612.5H201.5A2 2 0 0 1 199.5 1610.5V1497A2 2 0 0 1 201.5 1495ZM711.5 1495H729.8A2 2 0 0 1 731.8 1497V1610.5A2 2 0 0 1 729.8 1612.5H711.5A2 2 0 0 1 709.5 1610.5V1497A2 2 0 0 1 711.5 1495ZM186.2 1423.2a2.5 2.5 0 1 0 5 0a2.5 2.5 0 1 0 -5 0ZM199.2 1423.2a4 4 0 1 0 8 0a4 4 0 1 0 -8 0ZM727 1421.8a3 3 0 1 0 6 0a3 3 0 1 0 -6 0ZM728.5 1421.8a1.5 1.5 0 1 0 3 0a1.5 1.5 0 1 0 -3 0ZM740 1423.2a2.5 2.5 0 1 0 5 0a2.5 2.5 0 1 0 -5 0ZM172.2 1698.2a0.8 0.8 0 1 0 1.5 0a0.8 0.8 0 1 0 -1.5 0ZM757.5 1698.2a0.8 0.8 0 1 0 1.5 0a0.8 0.8 0 1 0 -1.5 0ZM335 1840L347.5 1840M670.1 1819.2A18.8 18.8 0 0 1 651.4 1819.2M612.5 1840L680 1840M175.8 1851.2H206.8A1.5 1.5 0 0 1 208.2 1852.8V1882.2A1.5 1.5 0 0 1 206.8 1883.8H175.8A1.5 1.5 0 0 1 174.2 1882.2V1852.8A1.5 1.5 0 0 1 175.8 1851.2ZM724.5 1851.2H755.5A1.5 1.5 0 0 1 757 1852.8V1882.2A1.5 1.5 0 0 1 755.5 1883.8H724.5A1.5 1.5 0 0 1 723 1882.2V1852.8A1.5 1.5 0 0 1 724.5 1851.2ZM204.8 1900.5L223.1 1919.3A9 9 0 0 0 235.9 1906.7L217.7 1888A9 9 0 0 0 204.8 1900.5ZM713.6 1888L695.4 1906.7A9 9 0 0 0 708.2 1919.3L726.5 1900.5A9 9 0 0 0 713.6 1888ZM241.8 1900.6L260.6 1919.6A9 9 0 0 0 273.4 1906.9L254.7 1887.9A9 9 0 0 0 241.8 1900.6ZM676.6 1887.9L657.9 1906.9A9 9 0 0 0 670.7 1919.6L689.5 1900.6A9 9 0 0 0 676.6 1887.9ZM278.8 1900.8L297.6 1920A9 9 0 0 0 310.4 1907.5L291.7 1888.2A9 9 0 0 0 278.8 1900.8ZM639.6 1888.2L620.9 1907.5A9 9 0 0 0 633.7 1920L652.5 1900.8A9 9 0 0 0 639.6 1888.2ZM200 1840L223.2 1858.8M731.3 1840L708 1858.8M196.2 1938.8L203.8 1932L256.2 1932L265 1938.8L263.8 1942L197.5 1942ZM367.8 1895.6A11.2 11.2 0 0 1 387.2 1895.6M387.2 1906.9A11.2 11.2 0 0 1 367.8 1906.9"/>
<path stroke-width="1" d="M368 1373H404.5V1409.5H368ZM192 1395H199.5V1409.5H192ZM731.8 1395H739.3V1409.5H731.8ZM415 1469.2L482.5 1469.2M502.5 1469.2L512.5 1469.2M522.5 1469.2L530 1469.2M422.2 1418.8H427.8A1 1 0 0 1 428.8 1419.8V1431A1 1 0 0 1 427.8 1432H422.2A1 1 0 0 1 421.2 1431V1419.8A1 1 0 0 1 422.2 1418.8ZM460 1511.8H471.2A1.2 1.2 0 0 1 472.5 1513V1518A1.2 1.2 0 0 1 471.2 1519.2H460A1.2 1.2 0 0 1 458.8 1518V1513A1.2 1.2 0 0 1 460 1511.8ZM362.8 1473.2H368.5A1 1 0 0 1 369.5 1474.2V1486A1 1 0 0 1 368.5 1487H362.8A1 1 0 0 1 361.8 1486V1474.2A1 1 0 0 1 362.8 1473.2ZM431 1473.2H436.5A1 1 0 0 1 437.5 1474.2V1486A1 1 0 0 1 436.5 1487H431A1 1 0 0 1 430 1486V1474.2A1 1 0 0 1 431 1473.2ZM287.8 1418.8H293.2A1 1 0 0 1 294.2 1419.8V1431A1 1 0 0 1 293.2 1432H287.8A1 1 0 0 1 286.8 1431V1419.8A1 1 0 0 1 287.8 1418.8ZM257.8 1473.2H263.5A1 1 0 0 1 264.5 1474.2V1486A1 1 0 0 1 263.5 1487H257.8A1 1 0 0 1 256.8 1486V1474.2A1 1 0 0 1 257.8 1473.2ZM288.8 1436.2H324.8A2 2 0 0 1 326.8 1438.2V1455.5A2 2 0 0 1 324.8 1457.5H288.8A2 2 0 0 1 286.8 1455.5V1438.2A2 2 0 0 1 288.8 1436.2ZM606.5 1436.2H642.5A2 2 0 0 1 644.5 1438.2V1455.5A2 2 0 0 1 642.5 1457.5H606.5A2 2 0 0 1 604.5 1455.5V1438.2A2 2 0 0 1 606.5 1436.2ZM297.5 1436.2L297.5 1457.5M633.8 1436.2L633.8 1457.5M315.8 1436.2L315.8 1457.5M615.5 1436.2L615.5 1457.5M301.2 1442.5H303.2A0.5 0.5 0 0 1 303.8 1443V1510.8A0.5 0.5 0 0 1 303.2 1511.2H301.2A0.5 0.5 0 0 1 300.8 1510.8V1443A0.5 0.5 0 0 1 301.2 1442.5ZM628 1442.5H630A0.5 0.5 0 0 1 630.5 1443V1510.8A0.5 0.5 0 0 1 630 1511.2H628A0.5 0.5 0 0 1 627.5 1510.8V1443A0.5 0.5 0 0 1 628 1442.5ZM310.5 1442.5H312.5A0.5 0.5 0 0 1 313 1443V1510.8A0.5 0.5 0 0 1 312.5 1511.2H310.5A0.5 0.5 0 0 1 310 1510.8V1443A0.5 0.5 0 0 1 310.5 1442.5ZM618.8 1442.5H620.8A0.5 0.5 0 0 1 621.3 1443V1510.8A0.5 0.5 0 0 1 620.8 1511.2H618.8A0.5 0.5 0 0 1 618.3 1510.8V1443A0.5 0.5 0 0 1 618.8 1442.5ZM290.2 1441.2a1.5 1.5 0 1 0 3 0a1.5 1.5 0 1 0 -3 0ZM638 1441.2a1.5 1.5 0 1 0 3 0a1.5 1.5 0 1 0 -3 0ZM320.5 1441.2a1.5 1.5 0 1 0 3 0a1.5 1.5 0 1 0 -3 0ZM607.8 1441.2a1.5 1.5 0 1 0 3 0a1.5 1.5 0 1 0 -3 0ZM290.2 1452.5a1.5 1.5 0 1 0 3 0a1.5 1.5 0 1 0 -3 0ZM638 1452.5a1.5 1.5 0 1 0 3 0a1.5 1.5 0 1 0 -3 0ZM320.5 1452.5a1.5 1.5 0 1 0 3 0a1.5 1.5 0 1 0 -3 0ZM607.8 1452.5a1.5 1.5 0 1 0 3 0a1.5 1.5 0 1 0 -3 0ZM232.5 1469.2L345 1469.2M698.8 1469.2L586.3 1469.2M352.5 1469.2L362.5 1469.2M578.8 1469.2L568.8 1469.2M367.5 1469.2L372.5 1469.2M563.8 1469.2L558.8 1469.2M382.5 1469.2L390 1469.2M548.8 1469.2L541.3 1469.2M400 1469.2L407.5 1469.2M531.3 1469.2L523.8 1469.2M175 1434.5L175 1620M756.3 1434.5L756.3 1620M199.5 1434.5L199.5 1495M731.8 1434.5L731.8 1495M175 1469.5L172 1470L170 1473L170 1620M756.3 1469.5L759.3 1470L761.3 1473L761.3 1620M171.2 1473.8a1.8 1.8 0 1 0 3.5 0a1.8 1.8 0 1 0 -3.5 0ZM756.5 1473.8a1.8 1.8 0 1 0 3.5 0a1.8 1.8 0 1 0 -3.5 0ZM172.2 1486.2a0.8 0.8 0 1 0 1.5 0a0.8 0.8 0 1 0 -1.5 0ZM757.5 1486.2a0.8 0.8 0 1 0 1.5 0a0.8 0.8 0 1 0 -1.5 0ZM199.5 1475.5L215.5 1475.5M731.8 1475.5L715.8 1475.5M223.2 1469.2L223.2 1489.5L232.5 1498.8M708 1469.2L708 1489.5L698.8 1498.8M200 1494.5L223.2 1470M731.3 1494.5L708 1470M232.5 1497.5L352.5 1497.5L356.2 1494.2L381.2 1494.2L385 1497.5L448.8 1497.5L452.5 1494.2L465.8 1494.2M698.8 1497.5L578.8 1497.5L575 1494.2L550 1494.2L546.3 1497.5L482.5 1497.5L478.8 1494.2L465.5 1494.2M352.5 1497.5L352.5 1567.5M578.8 1497.5L578.8 1567.5M385 1497.5L385 1567.5M546.3 1497.5L546.3 1567.5M448.8 1497.5L448.8 1520M482.5 1497.5L482.5 1520M205 1503.2a5 5 0 1 0 10 0a5 5 0 1 0 -10 0ZM716.3 1503.2a5 5 0 1 0 10 0a5 5 0 1 0 -10 0ZM207.8 1603.8a2.8 2.8 0 1 0 5.5 0a2.8 2.8 0 1 0 -5.5 0ZM718 1603.8a2.8 2.8 0 1 0 5.5 0a2.8 2.8 0 1 0 -5.5 0ZM253 1573.8H254A0.5 0.5 0 0 1 254.5 1574.2V1582A0.5 0.5 0 0 1 254 1582.5H253A0.5 0.5 0 0 1 252.5 1582V1574.2A0.5 0.5 0 0 1 253 1573.8ZM378 1620L378 1587.5L379 1585.5L380 1587.5L380 1620M719.5 1433.8H747V1450H719.5ZM615.4 1531A37.5 37.5 0 0 1 648.9 1598.1M676.8 1573.8H677.8A0.5 0.5 0 0 1 678.2 1574.2V1582A0.5 0.5 0 0 1 677.8 1582.5H676.8A0.5 0.5 0 0 1 676.2 1582V1574.2A0.5 0.5 0 0 1 676.8 1573.8ZM621.8 1516.2H622.5A0.5 0.5 0 0 1 623 1516.8V1520.2A0.5 0.5 0 0 1 622.5 1520.8H621.8A0.5 0.5 0 0 1 621.2 1520.2V1516.8A0.5 0.5 0 0 1 621.8 1516.2ZM641.2 1516.2H642A0.5 0.5 0 0 1 642.5 1516.8V1520.2A0.5 0.5 0 0 1 642 1520.8H641.2A0.5 0.5 0 0 1 640.8 1520.2V1516.8A0.5 0.5 0 0 1 641.2 1516.2ZM639.2 1498.2H640.8A0.5 0.5 0 0 1 641.2 1498.8V1513.2A0.5 0.5 0 0 1 640.8 1513.8H639.2A0.5 0.5 0 0 1 638.8 1513.2V1498.8A0.5 0.5 0 0 1 639.2 1498.2ZM682 1520.8H696.8A0.8 0.8 0 0 1 697.5 1521.5V1522.5A0.8 0.8 0 0 1 696.8 1523.2H682A0.8 0.8 0 0 1 681.2 1522.5V1521.5A0.8 0.8 0 0 1 682 1520.8ZM682 1607H696.8A0.8 0.8 0 0 1 697.5 1607.8V1608.8A0.8 0.8 0 0 1 696.8 1609.5H682A0.8 0.8 0 0 1 681.2 1608.8V1607.8A0.8 0.8 0 0 1 682 1607ZM552.5 1508.2H578.8A1.2 1.2 0 0 1 580 1509.5V1510A1.2 1.2 0 0 1 578.8 1511.2H552.5A1.2 1.2 0 0 1 551.2 1510V1509.5A1.2 1.2 0 0 1 552.5 1508.2ZM182.5 1413H213.2A3 3 0 0 1 216.2 1416V1429.5A3 3 0 0 1 213.2 1432.5H182.5A3 3 0 0 1 179.5 1429.5V1416A3 3 0 0 1 182.5 1413ZM199.2 1423.2L207.2 1423.2M203.2 1419.2L203.2 1427.2M718 1413H749.5A3 3 0 0 1 752.5 1416V1429.5A3 3 0 0 1 749.5 1432.5H718A3 3 0 0 1 715 1429.5V1416A3 3 0 0 1 718 1413ZM170 1610L170 1711.2L171.5 1715L175 1716.2M761.3 1610L761.3 1711.2L759.8 1715L756.3 1716.2M195.8 1628.8L195.8 1695M735.5 1628.8L735.5 1695M195.8 1765L195.8 1831.2M735.5 1765L735.5 1831.2M232 1610L232 1635M699.3 1610L699.3 1635M232 1666.2L232 1692.5M699.3 1666.2L699.3 1692.5M301.2 1635L232 1635L225.8 1641.2L225.8 1660L232 1666.2L301.2 1666.2M630 1635L699.3 1635L705.5 1641.2L705.5 1660L699.3 1666.2L630 1666.2M352.5 1635L356.2 1640.5L380 1640.5L385 1635L450 1635L453.8 1640.5L465.8 1640.5M578.8 1635L575 1640.5L551.3 1640.5L546.3 1635L481.3 1635L477.5 1640.5L465.5 1640.5M352.5 1666.2L356.2 1661.2L381.2 1661.2L385 1666.2L448.8 1666.2L453.8 1661.2L465.8 1661.2M578.8 1666.2L575 1661.2L550 1661.2L546.3 1666.2L482.5 1666.2L477.5 1661.2L465.5 1661.2M352.5 1666.2L352.5 1735M578.8 1666.2L578.8 1735M385 1666.2L385 1735M546.3 1666.2L546.3 1735M448.8 1610L448.8 1635M482.5 1610L482.5 1635M453.8 1676.2H457A0.5 0.5 0 0 1 457.5 1676.8V1744.5A0.5 0.5 0 0 1 457 1745H453.8A0.5 0.5 0 0 1 453.2 1744.5V1676.8A0.5 0.5 0 0 1 453.8 1676.2ZM474.3 1676.2H477.5A0.5 0.5 0 0 1 478 1676.8V1744.5A0.5 0.5 0 0 1 477.5 1745H474.3A0.5 0.5 0 0 1 473.8 1744.5V1676.8A0.5 0.5 0 0 1 474.3 1676.2ZM232 1831.2L317.5 1831.2M699.3 1831.2L613.8 1831.2M250 1840L317.5 1840M681.3 1840L613.8 1840M232 1831.2L223.2 1838.8L223.2 1860M699.3 1831.2L708 1838.8L708 1860M248.2 1810H249.2A0.8 0.8 0 0 1 250 1810.8V1881.8A0.8 0.8 0 0 1 249.2 1882.5H248.2A0.8 0.8 0 0 1 247.5 1881.8V1810.8A0.8 0.8 0 0 1 248.2 1810ZM682 1810H683A0.8 0.8 0 0 1 683.8 1810.8V1881.8A0.8 0.8 0 0 1 683 1882.5H682A0.8 0.8 0 0 1 681.3 1881.8V1810.8A0.8 0.8 0 0 1 682 1810ZM352.5 1831.2L356.2 1834.2L381.2 1834.2L385 1831.2M578.8 1831.2L575 1834.2L550 1834.2L546.3 1831.2M448.8 1831.2L452.5 1834.2L465.8 1834.2M482.5 1831.2L478.8 1834.2L465.5 1834.2M378 1610L378 1675.5L379 1677L380 1675.5L380 1610M246.2 1773.8L251.2 1773.8M290 1773.8L295 1773.8M249.8 1803A20.8 20.8 0 0 1 291.2 1803M440.2 1792H490.5A0.8 0.8 0 0 1 491.2 1792.8V1793.8A0.8 0.8 0 0 1 490.5 1794.5H440.2A0.8 0.8 0 0 1 439.5 1793.8V1792.8A0.8 0.8 0 0 1 440.2 1792ZM440.2 1816.2H490.5A0.8 0.8 0 0 1 491.2 1817V1818A0.8 0.8 0 0 1 490.5 1818.8H440.2A0.8 0.8 0 0 1 439.5 1818V1817A0.8 0.8 0 0 1 440.2 1816.2ZM461.5 1785.8H463A0.8 0.8 0 0 1 463.8 1786.5V1823.8A0.8 0.8 0 0 1 463 1824.5H461.5A0.8 0.8 0 0 1 460.8 1823.8V1786.5A0.8 0.8 0 0 1 461.5 1785.8ZM468.2 1785.8H469.8A0.8 0.8 0 0 1 470.5 1786.5V1823.8A0.8 0.8 0 0 1 469.8 1824.5H468.2A0.8 0.8 0 0 1 467.5 1823.8V1786.5A0.8 0.8 0 0 1 468.2 1785.8ZM715.8 1724.2H751.8A6.2 6.2 0 0 1 758 1730.5V1736.2A6.2 6.2 0 0 1 751.8 1742.5H715.8A6.2 6.2 0 0 1 709.5 1736.2V1730.5A6.2 6.2 0 0 1 715.8 1724.2ZM745.5 1733.2a3.2 3.2 0 1 0 6.5 0a3.2 3.2 0 1 0 -6.5 0ZM627 1771.2L637.5 1773.8L647.5 1772.5M673.8 1772.5L683.8 1773.8L694.5 1771.2M627 1803a33.8 33.8 0 1 0 67.5 0a33.8 33.8 0 1 0 -67.5 0ZM686.3 1814.3a1.8 1.8 0 1 0 3.5 0a1.8 1.8 0 1 0 -3.5 0ZM670.3 1830.3a1.8 1.8 0 1 0 3.5 0a1.8 1.8 0 1 0 -3.5 0ZM647.7 1830.3a1.8 1.8 0 1 0 3.5 0a1.8 1.8 0 1 0 -3.5 0ZM631.7 1814.3a1.8 1.8 0 1 0 3.5 0a1.8 1.8 0 1 0 -3.5 0ZM631.7 1791.7a1.8 1.8 0 1 0 3.5 0a1.8 1.8 0 1 0 -3.5 0ZM647.7 1775.7a1.8 1.8 0 1 0 3.5 0a1.8 1.8 0 1 0 -3.5 0ZM670.3 1775.7a1.8 1.8 0 1 0 3.5 0a1.8 1.8 0 1 0 -3.5 0ZM686.3 1791.7a1.8 1.8 0 1 0 3.5 0a1.8 1.8 0 1 0 -3.5 0ZM741.8 1788.8H743.2A0.5 0.5 0 0 1 743.8 1789.2V1855.8A0.5 0.5 0 0 1 743.2 1856.2H741.8A0.5 0.5 0 0 1 741.2 1855.8V1789.2A0.5 0.5 0 0 1 741.8 1788.8ZM750 1788.8H751.5A0.5 0.5 0 0 1 752 1789.2V1855.8A0.5 0.5 0 0 1 751.5 1856.2H750A0.5 0.5 0 0 1 749.5 1855.8V1789.2A0.5 0.5 0 0 1 750 1788.8ZM584.5 1620H585.5A0.8 0.8 0 0 1 586.2 1620.8V1641.2A0.8 0.8 0 0 1 585.5 1642H584.5A0.8 0.8 0 0 1 583.8 1641.2V1620.8A0.8 0.8 0 0 1 584.5 1620ZM681.5 1620H682.2A0.8 0.8 0 0 1 683 1620.8V1641.2A0.8 0.8 0 0 1 682.2 1642H681.5A0.8 0.8 0 0 1 680.8 1641.2V1620.8A0.8 0.8 0 0 1 681.5 1620ZM552.5 1618.8H578.8A1.2 1.2 0 0 1 580 1620V1620.5A1.2 1.2 0 0 1 578.8 1621.8H552.5A1.2 1.2 0 0 1 551.2 1620.5V1620A1.2 1.2 0 0 1 552.5 1618.8ZM562.5 1621.8L562.5 1635M680.8 1830L683.8 1830L683.8 1860M176.2 1856.2H206.2V1881.2H176.2ZM725 1856.2H755V1881.2H725ZM190 1856.2L190 1881.2M741.3 1856.2L741.3 1881.2M176.2 1853L206.2 1853M755 1853L725 1853M179.5 1861.2a1.2 1.2 0 1 0 2.5 0a1.2 1.2 0 1 0 -2.5 0ZM749.3 1861.2a1.2 1.2 0 1 0 2.5 0a1.2 1.2 0 1 0 -2.5 0ZM200.5 1861.2a1.2 1.2 0 1 0 2.5 0a1.2 1.2 0 1 0 -2.5 0ZM728.3 1861.2a1.2 1.2 0 1 0 2.5 0a1.2 1.2 0 1 0 -2.5 0ZM179.5 1876.2a1.2 1.2 0 1 0 2.5 0a1.2 1.2 0 1 0 -2.5 0ZM749.3 1876.2a1.2 1.2 0 1 0 2.5 0a1.2 1.2 0 1 0 -2.5 0ZM200.5 1876.2a1.2 1.2 0 1 0 2.5 0a1.2 1.2 0 1 0 -2.5 0ZM728.3 1876.2a1.2 1.2 0 1 0 2.5 0a1.2 1.2 0 1 0 -2.5 0ZM175 1883.8L175.5 1890L180 1895L212.5 1926.2M756.3 1883.8L755.8 1890L751.3 1895L718.8 1926.2M212.5 1928L280 1928M718.8 1928L651.3 1928M340 1928L348.8 1931.2L353.8 1937.5L357.5 1940L358.8 1943L440 1943M591.3 1928L582.5 1931.2L577.5 1937.5L573.8 1940L572.5 1943L491.3 1943M208.2 1883.8L293.8 1883.8M723 1883.8L637.5 1883.8M345 1883.8L412.5 1883.8M586.3 1883.8L518.8 1883.8M361.8 1884.5H363.8A0.5 0.5 0 0 1 364.2 1885V1895.8A0.5 0.5 0 0 1 363.8 1896.2H361.8A0.5 0.5 0 0 1 361.2 1895.8V1885A0.5 0.5 0 0 1 361.8 1884.5ZM567.5 1884.5H569.5A0.5 0.5 0 0 1 570 1885V1895.8A0.5 0.5 0 0 1 569.5 1896.2H567.5A0.5 0.5 0 0 1 567 1895.8V1885A0.5 0.5 0 0 1 567.5 1884.5ZM361.8 1907H363.8A0.5 0.5 0 0 1 364.2 1907.5V1919A0.5 0.5 0 0 1 363.8 1919.5H361.8A0.5 0.5 0 0 1 361.2 1919V1907.5A0.5 0.5 0 0 1 361.8 1907ZM567.5 1907H569.5A0.5 0.5 0 0 1 570 1907.5V1919A0.5 0.5 0 0 1 569.5 1919.5H567.5A0.5 0.5 0 0 1 567 1919V1907.5A0.5 0.5 0 0 1 567.5 1907ZM356.2 1940L356.2 1951.2L359.5 1952.5L359.5 1944.5M575 1940L575 1951.2L571.8 1952.5L571.8 1944.5M360.2 1944.5H380.5A0.8 0.8 0 0 1 381.2 1945.2V1951.8A0.8 0.8 0 0 1 380.5 1952.5H360.2A0.8 0.8 0 0 1 359.5 1951.8V1945.2A0.8 0.8 0 0 1 360.2 1944.5ZM550.8 1944.5H571A0.8 0.8 0 0 1 571.8 1945.2V1951.8A0.8 0.8 0 0 1 571 1952.5H550.8A0.8 0.8 0 0 1 550 1951.8V1945.2A0.8 0.8 0 0 1 550.8 1944.5ZM381.2 1944.5L385 1944.5L385 1951.2L381.2 1952.5M550 1944.5L546.3 1944.5L546.3 1951.2L550 1952.5M246.2 1875.8L362.5 1875.8M685 1875.8L568.8 1875.8M247.2 1860H249A1 1 0 0 1 250 1861V1877.8A1 1 0 0 1 249 1878.8H247.2A1 1 0 0 1 246.2 1877.8V1861A1 1 0 0 1 247.2 1860ZM682.3 1860H684A1 1 0 0 1 685 1861V1877.8A1 1 0 0 1 684 1878.8H682.3A1 1 0 0 1 681.3 1877.8V1861A1 1 0 0 1 682.3 1860ZM361.8 1815H363.2A1 1 0 0 1 364.2 1816V1877.8A1 1 0 0 1 363.2 1878.8H361.8A1 1 0 0 1 360.8 1877.8V1816A1 1 0 0 1 361.8 1815ZM568 1815H569.5A1 1 0 0 1 570.5 1816V1877.8A1 1 0 0 1 569.5 1878.8H568A1 1 0 0 1 567 1877.8V1816A1 1 0 0 1 568 1815ZM223.2 1840L223.2 1858.8L208.2 1858.8M708 1840L708 1858.8L723 1858.8M202 1939H216.2A0.8 0.8 0 0 1 217 1939.8V1940A0.8 0.8 0 0 1 216.2 1940.8H202A0.8 0.8 0 0 1 201.2 1940V1939.8A0.8 0.8 0 0 1 202 1939ZM245 1939H258.5A0.8 0.8 0 0 1 259.2 1939.8V1940A0.8 0.8 0 0 1 258.5 1940.8H245A0.8 0.8 0 0 1 244.2 1940V1939.8A0.8 0.8 0 0 1 245 1939ZM368.8 1901.2a8.8 8.8 0 1 0 17.5 0a8.8 8.8 0 1 0 -17.5 0Z"/>
<path stroke-width="1.4" d="M222.5 1434.2L235 1434.2M708.8 1434.2L696.3 1434.2M428.8 1434.2L437.5 1434.2M502.5 1434.2L493.8 1434.2M492.5 1434.2L502.5 1434.2M200.5 1497.5a1.2 1.2 0 1 0 2.5 0a1.2 1.2 0 1 0 -2.5 0ZM728.3 1497.5a1.2 1.2 0 1 0 2.5 0a1.2 1.2 0 1 0 -2.5 0ZM218 1497.5a1.2 1.2 0 1 0 2.5 0a1.2 1.2 0 1 0 -2.5 0ZM710.8 1497.5a1.2 1.2 0 1 0 2.5 0a1.2 1.2 0 1 0 -2.5 0ZM200.5 1610.5a1.2 1.2 0 1 0 2.5 0a1.2 1.2 0 1 0 -2.5 0ZM728.3 1610.5a1.2 1.2 0 1 0 2.5 0a1.2 1.2 0 1 0 -2.5 0ZM218 1610.5a1.2 1.2 0 1 0 2.5 0a1.2 1.2 0 1 0 -2.5 0ZM710.8 1610.5a1.2 1.2 0 1 0 2.5 0a1.2 1.2 0 1 0 -2.5 0Z"/>
<path stroke-width="1.6" d="M246.2 1433.8L252 1423L275.8 1423L281.8 1433.8ZM685 1433.8L679.3 1423L655.5 1423L649.5 1433.8ZM447.5 1433.8L453.2 1423L477.5 1423L483.2 1433.8ZM421.5 1441.8H509.8A1.5 1.5 0 0 1 511.2 1443.2V1444.2A1.5 1.5 0 0 1 509.8 1445.8H421.5A1.5 1.5 0 0 1 420 1444.2V1443.2A1.5 1.5 0 0 1 421.5 1441.8ZM204.5 1522.5L204.5 1546.2A6.5 6.5 0 0 0 217.5 1546.2L217.5 1522.5A6.5 6.5 0 0 0 204.5 1522.5ZM713.8 1522.5L713.8 1546.2A6.5 6.5 0 0 0 726.8 1546.2L726.8 1522.5A6.5 6.5 0 0 0 713.8 1522.5ZM643.1 1809.4A18.8 18.8 0 1 1 678.4 1809.4M206.6 1898.8L224.8 1917.5A6.5 6.5 0 0 0 234.2 1908.5L215.9 1889.7A6.5 6.5 0 0 0 206.6 1898.8ZM715.4 1889.7L697.1 1908.5A6.5 6.5 0 0 0 706.5 1917.5L724.7 1898.8A6.5 6.5 0 0 0 715.4 1889.7ZM243.6 1898.8L262.4 1917.8A6.5 6.5 0 0 0 271.6 1908.7L252.9 1889.7A6.5 6.5 0 0 0 243.6 1898.8ZM678.4 1889.7L659.7 1908.7A6.5 6.5 0 0 0 668.9 1917.8L687.7 1898.8A6.5 6.5 0 0 0 678.4 1889.7ZM280.6 1899L299.3 1918.3A6.5 6.5 0 0 0 308.7 1909.2L289.9 1890A6.5 6.5 0 0 0 280.6 1899ZM641.4 1890L622.6 1909.2A6.5 6.5 0 0 0 632 1918.3L650.7 1899A6.5 6.5 0 0 0 641.4 1890Z"/>
<path stroke-width="1.1" d="M396.8 1440.8L534.5 1440.8L534.5 1458.8L522.5 1458.8L520 1452.5L412.5 1452.5L410 1458.8L396.8 1458.8Z"/>
<path stroke-width="0.8" d="M415 1447.5L516.2 1447.5M432.5 1447.8A2.5 2.5 0 0 1 427.5 1447.8M468 1447.8A2.5 2.5 0 0 1 463 1447.8M503.8 1447.8A2.5 2.5 0 0 1 498.8 1447.8M202.8 1522.2L202.8 1546.5A8.2 8.2 0 0 0 219.2 1546.5L219.2 1522.2A8.2 8.2 0 0 0 202.8 1522.2ZM712 1522.2L712 1546.5A8.2 8.2 0 0 0 728.5 1546.5L728.5 1522.2A8.2 8.2 0 0 0 712 1522.2ZM721.5 1425.5a2.2 2.2 0 1 0 4.5 0a2.2 2.2 0 1 0 -4.5 0Z"/>
<path stroke-width="1.3" d="M401.5 1445a1.5 1.5 0 1 0 3 0a1.5 1.5 0 1 0 -3 0ZM401.5 1454.5a1.5 1.5 0 1 0 3 0a1.5 1.5 0 1 0 -3 0ZM526.8 1445a1.5 1.5 0 1 0 3 0a1.5 1.5 0 1 0 -3 0ZM526.8 1454.5a1.5 1.5 0 1 0 3 0a1.5 1.5 0 1 0 -3 0ZM201.2 1522.2L201.2 1546.5A9.8 9.8 0 0 0 220.8 1546.5L220.8 1522.2A9.8 9.8 0 0 0 201.2 1522.2ZM710.5 1522.2L710.5 1546.5A9.8 9.8 0 0 0 730 1546.5L730 1522.2A9.8 9.8 0 0 0 710.5 1522.2ZM214.5 1923a2.5 2.5 0 1 0 5 0a2.5 2.5 0 1 0 -5 0ZM215.8 1923a1.2 1.2 0 1 0 2.5 0a1.2 1.2 0 1 0 -2.5 0ZM242 1923a2.5 2.5 0 1 0 5 0a2.5 2.5 0 1 0 -5 0ZM243.2 1923a1.2 1.2 0 1 0 2.5 0a1.2 1.2 0 1 0 -2.5 0ZM372.5 1901.2a2 2 0 1 0 4 0a2 2 0 1 0 -4 0ZM378.5 1901.2a2 2 0 1 0 4 0a2 2 0 1 0 -4 0Z"/>
<path stroke-width="1" stroke-dasharray="28 5" d="M352.5 1567.5L352.5 1620M578.8 1567.5L578.8 1620M385 1567.5L385 1620M546.3 1567.5L546.3 1620M448.8 1520L448.8 1620M482.5 1520L482.5 1620M195.8 1497.5L195.8 1620M735.5 1497.5L735.5 1620M232 1520L232 1620M699.3 1520L699.3 1620M175 1610L175 1860M756.3 1610L756.3 1860M195.8 1695L195.8 1765M735.5 1695L735.5 1765M232 1692.5L232 1831.2M699.3 1692.5L699.3 1831.2M352.5 1610L352.5 1635M578.8 1610L578.8 1635M385 1610L385 1635M546.3 1610L546.3 1635M352.5 1735L352.5 1831.2M578.8 1735L578.8 1831.2M385 1735L385 1831.2M546.3 1735L546.3 1831.2M448.8 1666.2L448.8 1831.2M482.5 1666.2L482.5 1831.2"/>
<path stroke-width="1" stroke-dasharray="34 6 9 6" d="M368.8 1494.2L368.8 1620M562.5 1494.2L562.5 1620M465.5 1494.2L465.5 1620M368.8 1610L368.8 1640.5M562.5 1610L562.5 1640.5M368.8 1661.2L368.8 1831.2M562.5 1661.2L562.5 1831.2M465.5 1610L465.5 1640.5M465.5 1661.2L465.5 1835"/>
<path stroke-width="1" stroke-dasharray="14 8" d="M648.9 1598.1A37.5 37.5 0 1 1 615.4 1531"/>
<path stroke-width="1.8" d="M181 1411.2H214A4 4 0 0 1 218 1415.2V1429.8A4 4 0 0 1 214 1433.8H181A4 4 0 0 1 177 1429.8V1415.2A4 4 0 0 1 181 1411.2ZM717.2 1411.2H750.2A4 4 0 0 1 754.2 1415.2V1429.8A4 4 0 0 1 750.2 1433.8H717.2A4 4 0 0 1 713.2 1429.8V1415.2A4 4 0 0 1 717.2 1411.2ZM195.8 1831.2L222.5 1856.2M735.5 1831.2L708.8 1856.2"/>
<path stroke-width="1.5" d="M180.8 1416.2a1.2 1.2 0 1 0 2.5 0a1.2 1.2 0 1 0 -2.5 0ZM212.5 1416.2a1.2 1.2 0 1 0 2.5 0a1.2 1.2 0 1 0 -2.5 0ZM180.8 1430.8a1.2 1.2 0 1 0 2.5 0a1.2 1.2 0 1 0 -2.5 0ZM212.5 1430.8a1.2 1.2 0 1 0 2.5 0a1.2 1.2 0 1 0 -2.5 0ZM715.8 1416.2a1.2 1.2 0 1 0 2.5 0a1.2 1.2 0 1 0 -2.5 0ZM748.2 1416.2a1.2 1.2 0 1 0 2.5 0a1.2 1.2 0 1 0 -2.5 0ZM715.8 1430.8a1.2 1.2 0 1 0 2.5 0a1.2 1.2 0 1 0 -2.5 0ZM748.2 1430.8a1.2 1.2 0 1 0 2.5 0a1.2 1.2 0 1 0 -2.5 0ZM342.2 1846.2a1 1 0 1 0 2 0a1 1 0 1 0 -2 0ZM334.5 1855.5a1 1 0 1 0 2 0a1 1 0 1 0 -2 0ZM350.2 1855.5a1 1 0 1 0 2 0a1 1 0 1 0 -2 0ZM627 1733.2L694.5 1733.2M708.8 1858.8L735.8 1831.2M586.5 1846.2a1 1 0 1 0 2 0a1 1 0 1 0 -2 0ZM578.5 1855.5a1 1 0 1 0 2 0a1 1 0 1 0 -2 0ZM594 1855.5a1 1 0 1 0 2 0a1 1 0 1 0 -2 0ZM290 1861.2L358.8 1861.2M641.3 1861.2L572.5 1861.2M212.5 1928L247.5 1928"/>
<path stroke-width="1" stroke-dasharray="9 5" d="M301.2 1635L352.5 1635M630 1635L578.8 1635M301.2 1666.2L352.5 1666.2M630 1666.2L578.8 1666.2M236.8 1735L236.8 1765M304.5 1735L304.5 1766.2M322.5 1831.2L347.5 1831.2M627 1730L627 1771.2M694.5 1730L694.5 1771.2M280 1928L340 1928M651.3 1928L591.3 1928M293.8 1883.8L345 1883.8M637.5 1883.8L586.3 1883.8M412.5 1883.8L465.8 1883.8M518.8 1883.8L465.5 1883.8"/>
<path stroke-width="1" stroke-dasharray="18 14" d="M291.2 1803A20.8 20.8 0 0 1 249.8 1803"/>
<path stroke-width="1" stroke-dasharray="10 10" d="M631.5 1819.9A33.8 33.8 0 0 1 631.5 1786.1"/>
<path stroke-width="1" stroke-dasharray="10 14" d="M440 1943L465.8 1943M491.3 1943L465.5 1943"/>
<path stroke-width="1.5" stroke-dasharray="25 20" d="M250 1861.2L290 1861.2M681.3 1861.2L641.3 1861.2"/>
<path stroke-width="0.8" stroke-dasharray="40 12" d="M210 1857.5L465.8 1857.5M721.3 1857.5L465.5 1857.5"/>
<path stroke-width="0" stroke="#fff" fill="#fff" d="M375.6 1801.4L374.5 1797.2L378.1 1791.4L383.4 1788.1L386.4 1787.3L433.7 1832.9L439.5 1837L446.1 1840L465.7 1840.9L465.7 1856.1L439.5 1856.1L433.7 1855.5L427.9 1853.1L422.1 1848.7ZM555.7 1801.4L556.8 1797.2L553.2 1791.4L547.9 1788.1L544.9 1787.3L497.6 1832.9L491.8 1837L485.2 1840L465.6 1840.9L465.6 1856.1L491.8 1856.1L497.6 1855.5L503.4 1853.1L509.2 1848.7Z"/>
<path stroke-width="1.1" d="M375.6 1801.4L374.5 1797.2L378.1 1791.4L383.4 1788.1L386.4 1787.3L433.7 1832.9L439.5 1837L446.1 1840L456.1 1840.9L465.7 1840.9M555.7 1801.4L556.8 1797.2L553.2 1791.4L547.9 1788.1L544.9 1787.3L497.6 1832.9L491.8 1837L485.2 1840L475.2 1840.9L465.6 1840.9M375.6 1801.4L422.1 1848.7L427.9 1853.1L433.7 1855.5L439.5 1856.1M555.7 1801.4L509.2 1848.7L503.4 1853.1L497.6 1855.5L491.8 1856.1M381.4 1797.6L384.7 1795.6L389.1 1800.5L385.7 1802.7ZM549.9 1797.6L546.6 1795.6L542.2 1800.5L545.6 1802.7ZM402.2 1819.3a3.8 3.8 0 1 0 7.6 0a3.8 3.8 0 1 0 -7.6 0ZM521.5 1819.3a3.8 3.8 0 1 0 7.6 0a3.8 3.8 0 1 0 -7.6 0ZM394.7 1809.7a1.3 1.3 0 1 0 2.7 0a1.3 1.3 0 1 0 -2.7 0ZM534 1809.7a1.3 1.3 0 1 0 2.7 0a1.3 1.3 0 1 0 -2.7 0Z"/>
<path stroke-width="1" d="M408 1856.1L439.5 1856.1M523.3 1856.1L491.8 1856.1M361.5 1777.3L377.3 1791.8M569.8 1777.3L554 1791.8M364.8 1774.5L380.1 1788.9M566.5 1774.5L551.2 1788.9M361.5 1777.3L364.8 1774.5M569.8 1777.3L566.5 1774.5"/>
<path stroke-width="0.9" d="M411.3 1839.2L410.9 1846.2L408 1852.8L409.6 1856.1M520 1839.2L520.4 1846.2L523.3 1852.8L521.7 1856.1"/>
<path stroke-width="1" stroke-dasharray="18 9" d="M369.8 1770.7L362.3 1762.4L358.5 1764.1L357.4 1773.2L357.9 1782.3L361.2 1787.3M561.5 1770.7L569 1762.4L572.8 1764.1L573.9 1773.2L573.4 1782.3L570.1 1787.3"/>
<path stroke-width="1.4" d="M378.1 1801a0.5 0.5 0 1 0 1 0a0.5 0.5 0 1 0 -1 0ZM552.2 1801a0.5 0.5 0 1 0 1 0a0.5 0.5 0 1 0 -1 0ZM427.4 1849.8a0.5 0.5 0 1 0 1 0a0.5 0.5 0 1 0 -1 0ZM502.9 1849.8a0.5 0.5 0 1 0 1 0a0.5 0.5 0 1 0 -1 0Z"/>
<path stroke-width="1.2" d="M447.9 1849.5H483.3A1 1 0 0 1 484.3 1850.5V1852.6A1 1 0 0 1 483.3 1853.6H447.9A1 1 0 0 1 446.9 1852.6V1850.5A1 1 0 0 1 447.9 1849.5Z"/>
<path stroke-width="0.8" d="M449.1 1850.5H482.1A0.5 0.5 0 0 1 482.6 1851V1852.3A0.5 0.5 0 0 1 482.1 1852.8H449.1A0.5 0.5 0 0 1 448.6 1852.3V1851A0.5 0.5 0 0 1 449.1 1850.5Z"/>

</g>
<g id="br">
<path stroke-width="1.3" d="M897.5 1610L897.5 1606.2L905 1601.2L932.5 1597.5M1105 1524.2a1.2 1.2 0 1 0 2.5 0a1.2 1.2 0 1 0 -2.5 0ZM1137.6 1670.8L1170.8 1649L1177.4 1652.7L1144.2 1675.5ZM1144.2 1675.5L1144.2 1719.1M1208.1 1678a0.6 0.6 0 1 0 1.1 0a0.6 0.6 0 1 0 -1.1 0ZM1226.1 1688.4a0.6 0.6 0 1 0 1.1 0a0.6 0.6 0 1 0 -1.1 0ZM1275.4 1704.3a0.6 0.6 0 1 0 1.1 0a0.6 0.6 0 1 0 -1.1 0ZM1304.2 1721a0.6 0.6 0 1 0 1.1 0a0.6 0.6 0 1 0 -1.1 0ZM1310.5 1753.2a0.6 0.6 0 1 0 1.1 0a0.6 0.6 0 1 0 -1.1 0ZM1269.7 1776.9a0.6 0.6 0 1 0 1.1 0a0.6 0.6 0 1 0 -1.1 0ZM1346.5 1774.1a0.6 0.6 0 1 0 1.1 0a0.6 0.6 0 1 0 -1.1 0ZM1365.4 1768.4a0.6 0.6 0 1 0 1.1 0a0.6 0.6 0 1 0 -1.1 0ZM1157.7 1770.3a0.8 0.8 0 1 0 1.5 0a0.8 0.8 0 1 0 -1.5 0ZM1233.3 1792.7L1261.8 1788.3L1263.1 1794.5L1258 1801.6L1229.5 1816.7L1226.7 1814.8L1225.7 1800.6ZM1233.3 1803.5a1.5 1.5 0 1 0 3 0a1.5 1.5 0 1 0 -3 0ZM1250.9 1607.3L1250.9 1686.9M1261.8 1607.3L1261.8 1686.9M1418.5 1794.9L1418.5 1713.4M1442.8 1718.2L1449.4 1711.5L1457 1714.9L1457 1766.5M1445.4 1721a1.5 1.5 0 1 0 3 0a1.5 1.5 0 1 0 -3 0ZM1303.8 1878.8L1325 1877L1388.8 1912.5M1325 1867a0.8 0.8 0 1 0 1.5 0a0.8 0.8 0 1 0 -1.5 0ZM1388.8 1897.5L1386.2 1900L1388.8 1912.5L1393.8 1910L1501.2 1848.8L1502.5 1837.5L1495 1832.5M1460 1857.5L1495 1836.2M1401.8 1898.8a0.8 0.8 0 1 0 1.5 0a0.8 0.8 0 1 0 -1.5 0ZM1419.2 1890a0.8 0.8 0 1 0 1.5 0a0.8 0.8 0 1 0 -1.5 0ZM1436.8 1879.5a0.8 0.8 0 1 0 1.5 0a0.8 0.8 0 1 0 -1.5 0ZM1473 1858.8a0.8 0.8 0 1 0 1.5 0a0.8 0.8 0 1 0 -1.5 0ZM1490.5 1849.2a0.8 0.8 0 1 0 1.5 0a0.8 0.8 0 1 0 -1.5 0ZM1365.5 1768.8a0.8 0.8 0 1 0 1.5 0a0.8 0.8 0 1 0 -1.5 0ZM1443.8 1810L1443.8 1883.8M1460 1806.2L1460 1876.2"/>
<path stroke-width="1" stroke-dasharray="38 6 5 6 5 6" d="M932.5 1597.5L1262.5 1788"/>
<path stroke-width="1" stroke-dasharray="8 22 8 30 60 16" d="M905 1601.2L1233.8 1793.8"/>
<path stroke-width="1.8" d="M898 1609L983 1658M1022 1680L1227.5 1802.5M1153.8 1821.2L1208.8 1790M898.8 1620L907.5 1616.2M1146.1 1676.4L1170.8 1661.8M1167 1731.4L1224.8 1699.2M1240 1772.2L1295.9 1739.6M1450.4 1719.1L1450.4 1770.3M1391.6 1796.8L1395.4 1794.9M1373.8 1806.2L1322.5 1836.2M1450 1810L1450 1885"/>
<path stroke-width="0.8" d="M899 1612L981 1660M1022 1684L1226 1805M941.5 1677.5L980.5 1655.5M992 1732.5L1036.5 1707M1101.2 1784.2L1151.2 1755.5M1171.5 1830.8L1229 1798.2M1178.3 1658.4L1239 1690.7M1255.1 1701.1L1301.6 1728.6M1179.7 1740L1236.2 1708.1M1251.3 1779.8L1308.2 1747.2M1236.2 1793.4L1262.7 1789.6M1320 1866.2L1371.2 1896.2M1393.8 1900L1442.5 1871.2M1357.5 1765L1405 1788.8M1232.5 1815L1232.5 1885M1255.8 1840L1255.8 1895"/>
<path stroke-width="1.1" d="M868.8 1627Q885 1642.5 897.5 1651.2Q910 1660 922.5 1668.8Q935 1677.5 945 1686.2Q955 1695 961.2 1703.8Q967.5 1712.5 978.8 1722.5Q990 1732.5 1002.5 1739.2Q1015 1746 1027.5 1751.8Q1040 1757.5 1056.2 1763.8Q1072.5 1770 1086.2 1777.5Q1100 1785 1110 1792.5Q1120 1800 1136.2 1810Q1152.5 1820 1168.8 1828.8Q1185 1837.5 1197.5 1847.5Q1210 1857.5 1218.8 1867.5Q1227.5 1877.5 1242.5 1888.8L1257.5 1900M1433.3 1735.2L1433.3 1717.2L1436.2 1714.9L1440.9 1714.9L1440.9 1733.3L1437.1 1735.2"/>
<path stroke-width="1.5" d="M868.8 1627L897.5 1610M1055.5 1738A2 2 0 0 1 1059.2 1737M903.8 1613.8a1.2 1.2 0 1 0 2.5 0a1.2 1.2 0 1 0 -2.5 0ZM1103.8 1543.8a1.2 1.2 0 1 0 2.5 0a1.2 1.2 0 1 0 -2.5 0ZM1106.2 1675.5a1.2 1.2 0 1 0 2.5 0a1.2 1.2 0 1 0 -2.5 0ZM1172.7 1662.2L1229.5 1694.5M1249.4 1705.8L1300.6 1733.9M1300.6 1729.5L1302.5 1734.3M1391.6 1770.3L1395.4 1772.2M1262.7 1794.9L1294.9 1777.9M1182.9 1776.9a0.8 0.8 0 1 0 1.5 0a0.8 0.8 0 1 0 -1.5 0ZM1221 1808.2L1228.6 1804.4L1228.6 1814.8M1447.3 1781.7a1.1 1.1 0 1 0 2.3 0a1.1 1.1 0 1 0 -2.3 0ZM1447.7 1801.6a1.1 1.1 0 1 0 2.3 0a1.1 1.1 0 1 0 -2.3 0ZM1447 1872a1 1 0 1 0 2 0a1 1 0 1 0 -2 0ZM1447.2 1781.2a1.5 1.5 0 1 0 3 0a1.5 1.5 0 1 0 -3 0ZM1448.5 1743a1.5 1.5 0 1 0 3 0a1.5 1.5 0 1 0 -3 0Z"/>
<path stroke-width="1" d="M881.2 1639.5L916.2 1619.5M893.8 1647L916.2 1633.8M916.2 1619.5L916.2 1633.8M940 1675.8L979.5 1653.8M975 1717L1035 1682.5M1013.8 1744.2L1063 1716.2M1100 1782.5L1150 1753.8M1170 1828.8L1227.5 1796.2M1210 1791.2L1210 1800M916.2 1632.5L980 1668M1035 1704.5L1093.8 1738M1093.8 1725.5L1150 1757.5M1035 1682.5L1032.5 1690M1032.5 1690L1043.8 1712.5M1043.8 1712.5L1095 1742.5M937 1630.5L943 1633.5L943 1638L940 1640L937 1637.5ZM1035 1687.2L1041 1690.2L1041 1694.8L1038 1696.8L1035 1694.2ZM1082 1713L1088 1716L1088 1720.5L1085 1722.5L1082 1720ZM1120 1520L1120 1541.2M1115.2 1519.5a1 1 0 1 0 2 0a1 1 0 1 0 -2 0ZM1103.8 1610L1103.8 1681.2M1110 1610L1110 1681.2M1113 1610L1113 1670M1120 1610L1120 1670M1122 1610L1122 1670M1134.7 1669.8L1134.7 1714.4M1137.6 1716.3L1144.2 1719.1M1116.7 1686.9L1130 1679.7M1116.7 1690.7L1130 1683.5M1186.9 1653.1L1245.6 1685.9M1181.2 1655.6L1241.8 1688.8M1243.7 1686.9L1250.4 1685L1260.8 1690.7L1260.8 1696.3M1251.3 1692.6L1258.9 1688.8M1260.8 1696.3L1309.1 1720.6M1257 1698.6L1306.3 1723.8M1309.1 1720.6L1309.1 1724.8M1319.6 1736.2L1321.5 1740L1321.5 1748.5L1346.1 1761.8M1353.7 1749.4L1414.4 1781.7M1349.9 1752.8L1408.7 1785.8M1408.7 1785.8L1414.4 1781.7M1357.5 1760.8L1407.7 1787.7M1162.2 1729.5L1167 1731.4M1175.5 1736.2L1233.3 1703.9M1185 1743.7L1243.7 1709.6M1249.4 1776.9L1306.3 1744.7M1258.9 1789.2L1317.7 1751.3M1203 1753.2L1238.1 1772.2M1258.9 1801.6L1294.9 1781.7M1262.7 1817.7L1294.9 1799.7M1149.9 1751.3L1155.6 1768.4L1160.3 1772.6M1179.7 1770.3L1186.9 1774.1L1186.9 1778.8L1184 1780.7L1179.7 1777.9ZM1192.6 1794.9L1192.6 1785.4L1195.4 1783.2L1198.2 1785.4L1198.2 1791.1M1233.3 1792.7L1228.6 1798.7M1255.1 1607.3L1255.1 1686.9M1258.9 1607.3L1258.9 1686.9M1266.5 1611L1266.5 1662.2L1269.3 1665.1L1266.5 1668.9L1269.3 1672.7L1269.3 1679.3L1266.9 1683.1L1269.7 1686.9L1269.7 1696.3M1269.7 1603.5L1269.7 1662.2M1428.6 1728.6L1428.6 1794.9M1433.3 1736.2L1433.3 1793M1435.2 1758.9L1438.1 1762.7L1435.2 1766.5L1438.1 1771.2L1435.2 1776L1436.2 1787.3M1446.2 1721L1446.2 1743.7M1302.5 1770.3L1302.5 1819.6M1304 1770.3L1304 1787.3M1312.9 1781.7L1357.5 1760.8M1314.8 1785.8L1358.4 1765M1312.9 1774.1L1312.9 1781.7M1358.4 1768.4L1397.3 1791.5M1372.5 1815L1317.5 1847.5M1377.5 1821.2L1320 1855M1375 1826.2L1323.8 1856.2M1306.2 1835L1306.2 1865M1260 1822.5L1295 1842.5M1260 1827.5L1293.8 1847.5M1258.8 1838.8L1303.8 1878.8M1317.5 1862.5L1371.2 1892.5M1325 1872.5L1370 1900M1286.8 1865.8a1.2 1.2 0 1 0 2.5 0a1.2 1.2 0 1 0 -2.5 0ZM1264 1820.5a1 1 0 1 0 2 0a1 1 0 1 0 -2 0ZM1388.8 1897.5L1442.5 1866.2M1395 1901.2L1442.5 1873.8M1393.8 1910L1393.8 1900M1460 1865L1497.5 1842.5M1460 1870L1500 1846.2M1420 1797.5L1442.5 1810M1423.8 1793.8L1442.5 1804.5M1460 1812.5L1495 1832.5M1460 1817.5L1480 1830M1460 1822.5L1480 1834.5M1357.5 1760L1410 1786.2M1351.2 1753.8L1356.2 1760M1405 1788.8L1411.2 1785M1393.5 1771.2a1 1 0 1 0 2 0a1 1 0 1 0 -2 0ZM1452.5 1810L1452.5 1882.5M1443.8 1883.8L1447 1885.5L1450 1884.5M1430 1740L1430 1795M1432.5 1740L1432.5 1790M1435.5 1755L1438.8 1761.2L1435.5 1767.5L1438.8 1775L1435.5 1783.8L1437.5 1793.8"/>
<path stroke-width="1.6" d="M990 1730L1035 1704.5M1040 1756.2L1093.8 1725.5M1115 1796.2L1156.2 1772.5M1186.9 1776L1228.6 1798.7M1430.5 1724.8L1430.5 1794.9M1442.8 1718.2L1442.8 1770.3M1303.8 1770L1303.8 1865"/>
<path stroke-width="1.2" d="M906.2 1636.2L927.5 1636.2A3 3 0 0 0 927.5 1630.2L906.2 1630.2A3 3 0 0 0 906.2 1636.2ZM1103.8 1546.2L1103.8 1525L1107.5 1522L1110 1523.8L1110 1546.2M1113 1546.2L1113 1517L1117.5 1515L1122 1518.8L1122 1541.2M1146.1 1682.7L1177.4 1666M1130 1670.8L1130 1711.5M1137.6 1670.8L1137.6 1716.3M1118.6 1681.2L1137.6 1670.8M1260.8 1812L1294.9 1793M1250.9 1607.3L1248.5 1601.6L1254.2 1597.8L1260.8 1604.4L1266.5 1601.6L1269.7 1603.5M1418.5 1699.2L1424.8 1696L1431.4 1702L1426.7 1704.9L1418.5 1699.2M1431.4 1702L1440.9 1699.2L1440.9 1713.4M1348 1751.3L1358.4 1756.6L1358.4 1768.4M1312.9 1793.4L1359.4 1768.8M1296.2 1772.5L1296.2 1827.5L1298.8 1832.5L1296.2 1837.5L1298.8 1845L1296.2 1851.2L1298 1865L1300.5 1863.8L1303.8 1870M1312.5 1772.5L1312.5 1870L1308.8 1872.5L1306.2 1867.5L1305 1871.2M1420 1740L1420 1792.5M1228.8 1816.2L1228.8 1876.2M1257.5 1801.2L1257.5 1900"/>
<path stroke-width="1.4" d="M944.6 1650.5L956.4 1658A3 3 0 0 0 959.6 1653L947.9 1645.5A3 3 0 0 0 944.6 1650.5ZM1054.7 1713.6L1067.2 1721.1A3 3 0 0 0 1070.3 1715.9L1057.8 1708.4A3 3 0 0 0 1054.7 1713.6ZM939 1635.8a1 1 0 1 0 2 0a1 1 0 1 0 -2 0ZM1037 1692.5a1 1 0 1 0 2 0a1 1 0 1 0 -2 0ZM1084 1718.2a1 1 0 1 0 2 0a1 1 0 1 0 -2 0ZM1165.7 1776.3L1176.5 1783.5A2.3 2.3 0 0 0 1179 1779.8L1168.2 1772.6A2.3 2.3 0 0 0 1165.7 1776.3ZM1295.9 1838.5L1295.9 1771.2L1301.6 1767.4L1306.3 1770.3L1306.3 1838.5M1312 1772.2L1348 1751.3M1260 1831.2L1292.5 1851.2M1313.8 1857.5L1388.8 1897.5"/>
<path stroke-width="1" stroke-dasharray="14 10" d="M1103.8 1561.2L1103.8 1595M1110 1561.2L1110 1595M1113 1561.2L1113 1595M1122 1561.2L1122 1595"/>
<path stroke-width="1.5" fill="#000" d="M1105.8 1585a1.2 1.2 0 1 0 2.5 0a1.2 1.2 0 1 0 -2.5 0Z"/>
<path stroke-width="1.2" stroke-dasharray="5 4" d="M1310.1 1728.6L1319.6 1733.3"/>
<path stroke-width="1" stroke-dasharray="5 4" d="M1327.2 1737.1L1336.6 1741.8"/>
<path stroke-width="2" d="M1167 1762.7L1172.7 1765M1430 1805.5L1431.2 1807.5"/>
<path stroke-width="1.5" stroke-dasharray="12 8" d="M1442.8 1781.7L1442.8 1812M1457 1779.8L1457 1812M1442.5 1760L1442.5 1793.8M1451.2 1760L1451.2 1793.8M1460 1760L1460 1793.8"/>
<path stroke-width="1.2" stroke-dasharray="12 8" d="M1450.4 1781.7L1450.4 1812"/>
<path stroke-width="1" stroke-dasharray="8 5" d="M1403 1794.9L1414.4 1789.2M1391.6 1804.4L1414.4 1793M1389.7 1812L1406.8 1803.5"/>
<path stroke-width="1.2" fill="#fff" d="M966.2 1666.2L1001.2 1648L1022.5 1660L1022.5 1686.2L1018 1683.8L1017.5 1680L1010 1675.5L1007.5 1677.5L1003.8 1675.5L1003.8 1672L988.8 1679.5L988.8 1707.5L982.5 1705L982.5 1701.2L971.8 1695.5L971.8 1698L966.2 1695Z"/>
<path stroke-width="1.2" d="M966.2 1666.2L988.8 1679.5L1022.5 1660M988.8 1679.5L988.8 1707.5"/>
<path stroke-width="1.5" d="M980.5 1663a0.8 0.8 0 1 0 1.5 0a0.8 0.8 0 1 0 -1.5 0ZM999.8 1660.8a0.8 0.8 0 1 0 1.5 0a0.8 0.8 0 1 0 -1.5 0Z"/>

</g>
<g id="base">
<path stroke-width="3.0" d="M484.4 477.8L484.4 572.7M247.2 600.3L247.2 695.6M280 806L280 900.7M253.8 999.3L253.8 1094.1M483.8 1243.8L483.8 1288M153.8 1400.5L153.8 1467.9M157.7 1496.5L157.7 1542.6M158.5 1822L158.5 1868.7M158.5 1881.6L158.5 1950.6M314.2 1971L314.2 2018.8M380 1965.8L380 2012M567 1966.2L567 2013M631.8 1966.2L631.8 2013M754.5 1925.8L754.5 1972.5M795.5 1388.8L795.5 1456.2M796.2 1475L796.2 1522"/>
<path stroke-width="2.6" d="M484.4 523.5L687.5 917M248.7 648L307 700.9M280 854.8L457 816.3M253.8 1047.3L496.3 841.3M483.8 1266.5L686 930M1327.6 521.5L1304.8 589.3M983.7 1202.3L721 933.5M155.1 1436.4L199.4 1495.8M158.8 1517.7L211.1 1534.6M152.2 1592.2L199.7 1561.7M151.8 1655.5L208.2 1603M159.8 1847L221.5 1904.7M159.8 1916.2L213.4 1923.9M167.7 1975.6L200.4 1942.5M224.4 1979.2L230.7 1933.1M314.2 1996.8L257.5 1905.5M379.5 1990L293.2 1904.2M567 1991.2L635.8 1905.5M631.8 1992L672 1905M754.5 1950L708.8 1905.5M795.5 1423.8L732.5 1495M796.2 1500L721.2 1533.8M791.2 1561.8L732 1568.8M786.2 1611.2L722.5 1602.5M1061.2 1522L1107.5 1522.5M1067 1628.8L1107.5 1675.5M1477.5 1693.8L1450.5 1720M1475 1895L1448 1872.5M1292.5 1920.5L1235 1803.8"/>
<text stroke="none" fill="#000" x="478" y="495.9" font-size="25" text-anchor="end" font-weight="700">1</text>
<text stroke="none" fill="#000" x="478" y="521" font-size="25" text-anchor="end" font-weight="700">8</text>
<text stroke="none" fill="#000" x="478" y="546" font-size="25" text-anchor="end" font-weight="700">9</text>
<text stroke="none" fill="#000" x="478" y="571" font-size="25" text-anchor="end" font-weight="700">19</text>
<text stroke="none" fill="#000" x="240.1" y="619" font-size="25" text-anchor="end" font-weight="700">2</text>
<text stroke="none" fill="#000" x="240.1" y="644" font-size="25" text-anchor="end" font-weight="700">8</text>
<text stroke="none" fill="#000" x="240.1" y="669" font-size="25" text-anchor="end" font-weight="700">9</text>
<text stroke="none" fill="#000" x="240.1" y="694" font-size="25" text-anchor="end" font-weight="700">19</text>
<text stroke="none" fill="#000" x="272.7" y="823.5" font-size="25" text-anchor="end" font-weight="700">3</text>
<text stroke="none" fill="#000" x="272.7" y="848.5" font-size="25" text-anchor="end" font-weight="700">14</text>
<text stroke="none" fill="#000" x="272.7" y="873.5" font-size="25" text-anchor="end" font-weight="700">15</text>
<text stroke="none" fill="#000" x="272.7" y="898.5" font-size="25" text-anchor="end" font-weight="700">19</text>
<text stroke="none" fill="#000" x="247" y="1017.5" font-size="25" text-anchor="end" font-weight="700">7</text>
<text stroke="none" fill="#000" x="247" y="1042.5" font-size="25" text-anchor="end" font-weight="700">16</text>
<text stroke="none" fill="#000" x="247" y="1067.5" font-size="25" text-anchor="end" font-weight="700">17</text>
<text stroke="none" fill="#000" x="247" y="1092.5" font-size="25" text-anchor="end" font-weight="700">18</text>
<text stroke="none" fill="#000" x="475.5" y="1260.5" font-size="25" text-anchor="end" font-weight="700">11</text>
<text stroke="none" fill="#000" x="475.5" y="1285.5" font-size="25" text-anchor="end" font-weight="700">20</text>
<text stroke="none" fill="#000" x="1318.1" y="513.8" font-size="25" text-anchor="start" font-weight="700">12</text>
<text stroke="none" fill="#000" x="982.1" y="1222.9" font-size="25" text-anchor="start" font-weight="700">13</text>
<text stroke="none" fill="#000" x="146.6" y="1418" font-size="25" text-anchor="end" font-weight="700">8</text>
<text stroke="none" fill="#000" x="146.6" y="1443" font-size="25" text-anchor="end" font-weight="700">9</text>
<text stroke="none" fill="#000" x="146.6" y="1468" font-size="25" text-anchor="end" font-weight="700">19</text>
<text stroke="none" fill="#000" x="149.8" y="1514.1" font-size="25" text-anchor="end" font-weight="700">4</text>
<text stroke="none" fill="#000" x="149.8" y="1539.4" font-size="25" text-anchor="end" font-weight="700">10</text>
<text stroke="none" fill="#000" x="121.7" y="1610.8" font-size="25" text-anchor="start" font-weight="700">22</text>
<text stroke="none" fill="#000" x="123.1" y="1676" font-size="25" text-anchor="start" font-weight="700">27</text>
<text stroke="none" fill="#000" x="150.9" y="1840.8" font-size="25" text-anchor="end" font-weight="700">4</text>
<text stroke="none" fill="#000" x="150.9" y="1865.8" font-size="25" text-anchor="end" font-weight="700">10</text>
<text stroke="none" fill="#000" x="151.4" y="1900.9" font-size="25" text-anchor="end" font-weight="700">24</text>
<text stroke="none" fill="#000" x="151.4" y="1925.9" font-size="25" text-anchor="end" font-weight="700">25</text>
<text stroke="none" fill="#000" x="151.4" y="1950.9" font-size="25" text-anchor="end" font-weight="700">26</text>
<text stroke="none" fill="#000" x="140.2" y="1996.7" font-size="25" text-anchor="start" font-weight="700">21</text>
<text stroke="none" fill="#000" x="212.1" y="2004.7" font-size="25" text-anchor="start" font-weight="700">6</text>
<text stroke="none" fill="#000" x="321.7" y="1991.2" font-size="25" text-anchor="start" font-weight="700">4</text>
<text stroke="none" fill="#000" x="320.7" y="2016" font-size="25" text-anchor="start" font-weight="700">10</text>
<text stroke="none" fill="#000" x="387.4" y="1985.5" font-size="25" text-anchor="start" font-weight="700">5</text>
<text stroke="none" fill="#000" x="386.4" y="2010.5" font-size="25" text-anchor="start" font-weight="700">10</text>
<text stroke="none" fill="#000" x="559" y="1986" font-size="25" text-anchor="end" font-weight="700">5</text>
<text stroke="none" fill="#000" x="559" y="2011.2" font-size="25" text-anchor="end" font-weight="700">10</text>
<text stroke="none" fill="#000" x="624" y="1986" font-size="25" text-anchor="end" font-weight="700">4</text>
<text stroke="none" fill="#000" x="624" y="2011.2" font-size="25" text-anchor="end" font-weight="700">10</text>
<text stroke="none" fill="#000" x="761" y="1945" font-size="25" text-anchor="start" font-weight="700">4</text>
<text stroke="none" fill="#000" x="760" y="1970.3" font-size="25" text-anchor="start" font-weight="700">10</text>
<text stroke="none" fill="#000" x="801.7" y="1406" font-size="25" text-anchor="start" font-weight="700">8</text>
<text stroke="none" fill="#000" x="801.7" y="1431" font-size="25" text-anchor="start" font-weight="700">9</text>
<text stroke="none" fill="#000" x="800.7" y="1456" font-size="25" text-anchor="start" font-weight="700">19</text>
<text stroke="none" fill="#000" x="802.2" y="1495" font-size="25" text-anchor="start" font-weight="700">4</text>
<text stroke="none" fill="#000" x="801.2" y="1520.3" font-size="25" text-anchor="start" font-weight="700">10</text>
<text stroke="none" fill="#000" x="797.2" y="1568.5" font-size="25" text-anchor="start" font-weight="700">23</text>
<text stroke="none" fill="#000" x="791.2" y="1616.7" font-size="25" text-anchor="start" font-weight="700">27</text>
<text stroke="none" fill="#000" x="1028.2" y="1531.5" font-size="25" text-anchor="start" font-weight="700">12</text>
<text stroke="none" fill="#000" x="1184" y="1582.8" font-size="19.4" text-anchor="start" font-weight="700">(WATER TANK FRAME)</text>
<text stroke="none" fill="#000" x="1039.7" y="1625.5" font-size="25" text-anchor="start" font-weight="700">28</text>
<text stroke="none" fill="#000" x="1478.2" y="1690.7" font-size="25" text-anchor="start" font-weight="700">12</text>
<text stroke="none" fill="#000" x="1476.7" y="1915.2" font-size="25" text-anchor="start" font-weight="700">28</text>
<text stroke="none" fill="#000" x="1288.2" y="1944.3" font-size="25" text-anchor="start" font-weight="700">12</text>
</g></svg>
</body></html>
